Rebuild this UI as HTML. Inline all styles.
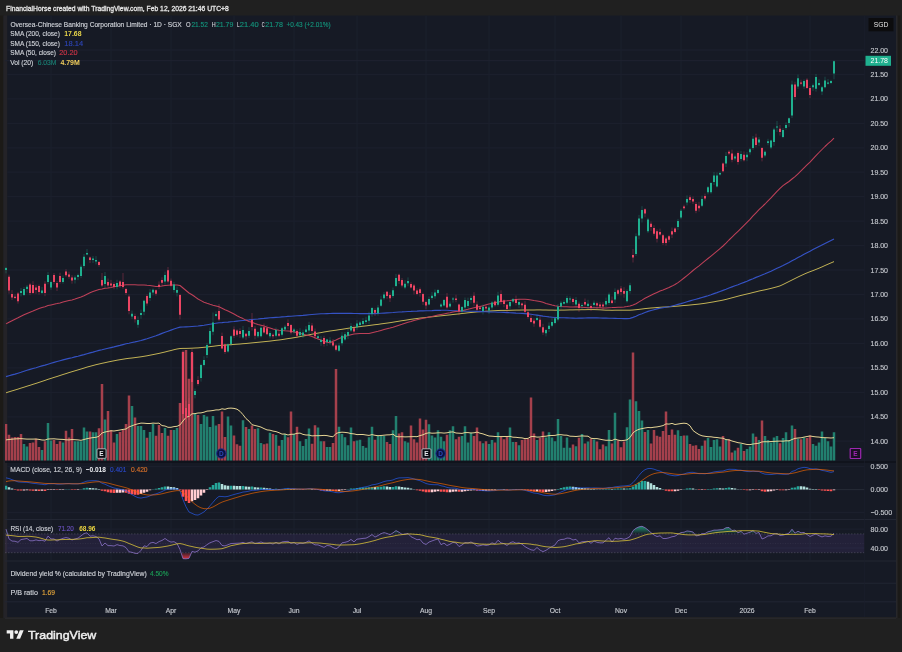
<!DOCTYPE html><html><head><meta charset="utf-8"><title>OCBC chart</title><style>html,body{margin:0;padding:0;background:#202020;}body{width:902px;height:652px;overflow:hidden;position:relative;font-family:'Liberation Sans', Arial, sans-serif;}svg{position:absolute;left:0;top:0;display:block}text{font-family:'Liberation Sans', Arial, sans-serif;}</style></head><body><svg width="902" height="652" viewBox="0 0 902 652"><rect x="0" y="15.5" width="3.4" height="602.5" fill="#1c1a17"/><rect x="3.4" y="15.5" width="4" height="602.5" fill="#242328"/><rect x="7.3" y="15.5" width="888.7" height="601.5" fill="#161a25"/><rect x="896.0" y="15.5" width="1.7" height="602.5" fill="#27272a"/><rect x="897.7" y="15.5" width="2.6" height="602.5" fill="#1b1a18"/><defs><clipPath id="cm"><rect x="5.0" y="15.5" width="859.5" height="445.5"/></clipPath><clipPath id="cmacd"><rect x="5.0" y="462.5" width="859.5" height="56"/></clipPath><clipPath id="crsi"><rect x="5.0" y="520.5" width="859.5" height="39.5"/></clipPath></defs><path d="M51.0 15.5V560.5 M111.0 15.5V560.5 M171.0 15.5V560.5 M234.0 15.5V560.5 M294.0 15.5V560.5 M357.0 15.5V560.5 M426.0 15.5V560.5 M489.0 15.5V560.5 M555.0 15.5V560.5 M621.0 15.5V560.5 M681.0 15.5V560.5 M747.0 15.5V560.5 M810.0 15.5V560.5 M7.3 50.0H864.5 M7.3 74.5H864.5 M7.3 98.9H864.5 M7.3 123.3H864.5 M7.3 147.8H864.5 M7.3 172.2H864.5 M7.3 196.7H864.5 M7.3 221.2H864.5 M7.3 245.6H864.5 M7.3 270.0H864.5 M7.3 294.5H864.5 M7.3 318.9H864.5 M7.3 343.4H864.5 M7.3 367.8H864.5 M7.3 392.3H864.5 M7.3 416.8H864.5 M7.3 441.2H864.5 M7.3 466.7H864.5 M7.3 489.6H864.5 M7.3 512.5H864.5 M7.3 529.2H864.5 M7.3 548.0H864.5" stroke="#1b1f2c" stroke-width="1.3" fill="none"/><g clip-path="url(#cm)"><path d="M22.75 443.9h2.5V460.6h-2.5zM25.75 446.5h2.5V460.6h-2.5zM40.75 450.0h2.5V460.6h-2.5zM46.75 423.0h2.5V460.6h-2.5zM49.75 440.6h2.5V460.6h-2.5zM61.75 442.6h2.5V460.6h-2.5zM73.75 441.3h2.5V460.6h-2.5zM76.75 441.3h2.5V460.6h-2.5zM79.75 441.3h2.5V460.6h-2.5zM82.75 427.6h2.5V460.6h-2.5zM85.75 431.5h2.5V460.6h-2.5zM91.75 432.2h2.5V460.6h-2.5zM94.75 432.2h2.5V460.6h-2.5zM103.75 419.5h2.5V460.6h-2.5zM115.75 434.0h2.5V460.6h-2.5zM130.75 406.0h2.5V460.6h-2.5zM136.75 426.0h2.5V460.6h-2.5zM139.75 426.0h2.5V460.6h-2.5zM142.75 430.0h2.5V460.6h-2.5zM148.75 432.0h2.5V460.6h-2.5zM151.75 424.0h2.5V460.6h-2.5zM163.75 428.0h2.5V460.6h-2.5zM172.75 430.0h2.5V460.6h-2.5zM175.75 428.0h2.5V460.6h-2.5zM193.75 413.7h2.5V460.6h-2.5zM199.75 424.0h2.5V460.6h-2.5zM202.75 415.0h2.5V460.6h-2.5zM205.75 416.6h2.5V460.6h-2.5zM208.75 427.0h2.5V460.6h-2.5zM211.75 416.0h2.5V460.6h-2.5zM214.75 425.4h2.5V460.6h-2.5zM226.75 416.6h2.5V460.6h-2.5zM229.75 425.4h2.5V460.6h-2.5zM241.75 420.3h2.5V460.6h-2.5zM247.75 429.0h2.5V460.6h-2.5zM256.75 428.3h2.5V460.6h-2.5zM259.75 443.0h2.5V460.6h-2.5zM268.75 432.7h2.5V460.6h-2.5zM274.75 434.9h2.5V460.6h-2.5zM280.75 440.0h2.5V460.6h-2.5zM283.75 434.0h2.5V460.6h-2.5zM292.75 434.0h2.5V460.6h-2.5zM298.75 441.3h2.5V460.6h-2.5zM301.75 446.0h2.5V460.6h-2.5zM304.75 439.0h2.5V460.6h-2.5zM307.75 428.4h2.5V460.6h-2.5zM316.75 427.6h2.5V460.6h-2.5zM319.75 441.3h2.5V460.6h-2.5zM325.75 447.0h2.5V460.6h-2.5zM328.75 447.0h2.5V460.6h-2.5zM337.75 426.8h2.5V460.6h-2.5zM340.75 434.0h2.5V460.6h-2.5zM343.75 437.3h2.5V460.6h-2.5zM346.75 445.3h2.5V460.6h-2.5zM349.75 427.6h2.5V460.6h-2.5zM355.75 440.5h2.5V460.6h-2.5zM358.75 439.7h2.5V460.6h-2.5zM361.75 446.0h2.5V460.6h-2.5zM364.75 447.8h2.5V460.6h-2.5zM367.75 437.3h2.5V460.6h-2.5zM370.75 426.8h2.5V460.6h-2.5zM376.75 435.7h2.5V460.6h-2.5zM379.75 436.0h2.5V460.6h-2.5zM382.75 436.0h2.5V460.6h-2.5zM391.75 430.2h2.5V460.6h-2.5zM394.75 415.9h2.5V460.6h-2.5zM403.75 441.3h2.5V460.6h-2.5zM406.75 442.6h2.5V460.6h-2.5zM427.75 424.3h2.5V460.6h-2.5zM430.75 435.4h2.5V460.6h-2.5zM433.75 437.4h2.5V460.6h-2.5zM436.75 430.2h2.5V460.6h-2.5zM439.75 436.7h2.5V460.6h-2.5zM442.75 441.3h2.5V460.6h-2.5zM448.75 430.2h2.5V460.6h-2.5zM451.75 426.3h2.5V460.6h-2.5zM460.75 436.0h2.5V460.6h-2.5zM463.75 426.3h2.5V460.6h-2.5zM466.75 442.6h2.5V460.6h-2.5zM469.75 432.8h2.5V460.6h-2.5zM481.75 443.2h2.5V460.6h-2.5zM487.75 443.9h2.5V460.6h-2.5zM490.75 440.0h2.5V460.6h-2.5zM496.75 432.2h2.5V460.6h-2.5zM508.75 427.6h2.5V460.6h-2.5zM511.75 442.0h2.5V460.6h-2.5zM517.75 445.2h2.5V460.6h-2.5zM535.75 440.0h2.5V460.6h-2.5zM544.75 437.4h2.5V460.6h-2.5zM547.75 432.2h2.5V460.6h-2.5zM550.75 437.4h2.5V460.6h-2.5zM553.75 441.3h2.5V460.6h-2.5zM556.75 419.0h2.5V460.6h-2.5zM559.75 436.0h2.5V460.6h-2.5zM562.75 447.8h2.5V460.6h-2.5zM565.75 437.4h2.5V460.6h-2.5zM568.75 447.8h2.5V460.6h-2.5zM574.75 446.3h2.5V460.6h-2.5zM580.75 433.9h2.5V460.6h-2.5zM586.75 441.5h2.5V460.6h-2.5zM592.75 439.6h2.5V460.6h-2.5zM604.75 446.3h2.5V460.6h-2.5zM607.75 430.0h2.5V460.6h-2.5zM613.75 412.8h2.5V460.6h-2.5zM625.75 427.2h2.5V460.6h-2.5zM628.75 399.4h2.5V460.6h-2.5zM634.75 401.3h2.5V460.6h-2.5zM637.75 411.0h2.5V460.6h-2.5zM640.75 420.5h2.5V460.6h-2.5zM646.75 430.0h2.5V460.6h-2.5zM676.75 430.2h2.5V460.6h-2.5zM679.75 436.0h2.5V460.6h-2.5zM685.75 435.4h2.5V460.6h-2.5zM700.75 445.8h2.5V460.6h-2.5zM706.75 438.0h2.5V460.6h-2.5zM709.75 447.0h2.5V460.6h-2.5zM712.75 440.0h2.5V460.6h-2.5zM715.75 439.3h2.5V460.6h-2.5zM718.75 446.5h2.5V460.6h-2.5zM724.75 439.3h2.5V460.6h-2.5zM733.75 450.4h2.5V460.6h-2.5zM739.75 443.9h2.5V460.6h-2.5zM745.75 449.1h2.5V460.6h-2.5zM748.75 446.5h2.5V460.6h-2.5zM751.75 433.5h2.5V460.6h-2.5zM757.75 440.0h2.5V460.6h-2.5zM763.75 436.0h2.5V460.6h-2.5zM766.75 440.0h2.5V460.6h-2.5zM769.75 442.6h2.5V460.6h-2.5zM772.75 437.4h2.5V460.6h-2.5zM775.75 436.0h2.5V460.6h-2.5zM781.75 438.0h2.5V460.6h-2.5zM784.75 432.2h2.5V460.6h-2.5zM787.75 440.0h2.5V460.6h-2.5zM790.75 425.6h2.5V460.6h-2.5zM796.75 438.7h2.5V460.6h-2.5zM802.75 437.4h2.5V460.6h-2.5zM811.75 443.9h2.5V460.6h-2.5zM814.75 445.8h2.5V460.6h-2.5zM817.75 442.6h2.5V460.6h-2.5zM820.75 431.5h2.5V460.6h-2.5zM823.75 438.0h2.5V460.6h-2.5zM826.75 441.3h2.5V460.6h-2.5zM829.75 446.5h2.5V460.6h-2.5zM832.75 432.2h2.5V460.6h-2.5z" fill="#22806f"/><path d="M4.75 424.0h2.5V460.6h-2.5zM7.75 434.8h2.5V460.6h-2.5zM10.75 437.4h2.5V460.6h-2.5zM13.75 437.0h2.5V460.6h-2.5zM16.75 437.0h2.5V460.6h-2.5zM19.75 434.0h2.5V460.6h-2.5zM28.75 443.0h2.5V460.6h-2.5zM31.75 442.6h2.5V460.6h-2.5zM34.75 438.7h2.5V460.6h-2.5zM37.75 447.0h2.5V460.6h-2.5zM43.75 441.3h2.5V460.6h-2.5zM52.75 440.0h2.5V460.6h-2.5zM55.75 443.9h2.5V460.6h-2.5zM58.75 441.3h2.5V460.6h-2.5zM64.75 430.8h2.5V460.6h-2.5zM67.75 437.4h2.5V460.6h-2.5zM70.75 428.9h2.5V460.6h-2.5zM88.75 431.5h2.5V460.6h-2.5zM97.75 428.2h2.5V460.6h-2.5zM100.75 384.0h2.5V460.6h-2.5zM106.75 411.0h2.5V460.6h-2.5zM109.75 430.0h2.5V460.6h-2.5zM112.75 442.5h2.5V460.6h-2.5zM118.75 432.0h2.5V460.6h-2.5zM121.75 430.0h2.5V460.6h-2.5zM124.75 424.0h2.5V460.6h-2.5zM127.75 395.6h2.5V460.6h-2.5zM133.75 417.6h2.5V460.6h-2.5zM145.75 437.7h2.5V460.6h-2.5zM154.75 435.8h2.5V460.6h-2.5zM157.75 425.0h2.5V460.6h-2.5zM160.75 433.0h2.5V460.6h-2.5zM166.75 435.8h2.5V460.6h-2.5zM169.75 430.0h2.5V460.6h-2.5zM178.75 403.0h2.5V460.6h-2.5zM181.75 351.7h2.5V460.6h-2.5zM184.75 350.0h2.5V460.6h-2.5zM187.75 378.7h2.5V460.6h-2.5zM190.75 353.0h2.5V460.6h-2.5zM196.75 415.0h2.5V460.6h-2.5zM217.75 424.0h2.5V460.6h-2.5zM220.75 411.5h2.5V460.6h-2.5zM223.75 437.0h2.5V460.6h-2.5zM232.75 435.6h2.5V460.6h-2.5zM235.75 444.3h2.5V460.6h-2.5zM238.75 445.8h2.5V460.6h-2.5zM244.75 427.0h2.5V460.6h-2.5zM250.75 425.4h2.5V460.6h-2.5zM253.75 429.0h2.5V460.6h-2.5zM262.75 444.3h2.5V460.6h-2.5zM265.75 443.6h2.5V460.6h-2.5zM271.75 434.0h2.5V460.6h-2.5zM277.75 445.8h2.5V460.6h-2.5zM286.75 437.3h2.5V460.6h-2.5zM289.75 411.5h2.5V460.6h-2.5zM295.75 426.8h2.5V460.6h-2.5zM310.75 443.7h2.5V460.6h-2.5zM313.75 425.2h2.5V460.6h-2.5zM322.75 441.3h2.5V460.6h-2.5zM331.75 443.0h2.5V460.6h-2.5zM334.75 368.9h2.5V460.6h-2.5zM352.75 441.3h2.5V460.6h-2.5zM373.75 439.7h2.5V460.6h-2.5zM385.75 442.0h2.5V460.6h-2.5zM388.75 443.9h2.5V460.6h-2.5zM397.75 433.5h2.5V460.6h-2.5zM400.75 432.2h2.5V460.6h-2.5zM409.75 425.6h2.5V460.6h-2.5zM412.75 439.3h2.5V460.6h-2.5zM415.75 442.6h2.5V460.6h-2.5zM418.75 418.5h2.5V460.6h-2.5zM421.75 429.5h2.5V460.6h-2.5zM424.75 419.8h2.5V460.6h-2.5zM445.75 434.8h2.5V460.6h-2.5zM454.75 439.3h2.5V460.6h-2.5zM457.75 436.7h2.5V460.6h-2.5zM472.75 436.0h2.5V460.6h-2.5zM475.75 427.6h2.5V460.6h-2.5zM478.75 441.3h2.5V460.6h-2.5zM484.75 441.3h2.5V460.6h-2.5zM493.75 442.6h2.5V460.6h-2.5zM499.75 436.7h2.5V460.6h-2.5zM502.75 439.3h2.5V460.6h-2.5zM505.75 436.0h2.5V460.6h-2.5zM514.75 442.0h2.5V460.6h-2.5zM520.75 440.0h2.5V460.6h-2.5zM523.75 439.3h2.5V460.6h-2.5zM526.75 438.7h2.5V460.6h-2.5zM529.75 397.6h2.5V460.6h-2.5zM532.75 433.5h2.5V460.6h-2.5zM538.75 438.0h2.5V460.6h-2.5zM541.75 431.5h2.5V460.6h-2.5zM571.75 444.4h2.5V460.6h-2.5zM577.75 437.7h2.5V460.6h-2.5zM583.75 443.4h2.5V460.6h-2.5zM589.75 438.7h2.5V460.6h-2.5zM595.75 441.5h2.5V460.6h-2.5zM598.75 449.2h2.5V460.6h-2.5zM601.75 444.4h2.5V460.6h-2.5zM610.75 443.4h2.5V460.6h-2.5zM616.75 440.6h2.5V460.6h-2.5zM619.75 447.3h2.5V460.6h-2.5zM622.75 441.5h2.5V460.6h-2.5zM631.75 352.5h2.5V460.6h-2.5zM643.75 432.0h2.5V460.6h-2.5zM649.75 443.4h2.5V460.6h-2.5zM652.75 430.0h2.5V460.6h-2.5zM655.75 435.8h2.5V460.6h-2.5zM658.75 436.7h2.5V460.6h-2.5zM661.75 431.0h2.5V460.6h-2.5zM664.75 411.5h2.5V460.6h-2.5zM667.75 435.0h2.5V460.6h-2.5zM670.75 429.5h2.5V460.6h-2.5zM673.75 434.8h2.5V460.6h-2.5zM682.75 435.4h2.5V460.6h-2.5zM688.75 443.9h2.5V460.6h-2.5zM691.75 445.8h2.5V460.6h-2.5zM694.75 445.2h2.5V460.6h-2.5zM697.75 449.1h2.5V460.6h-2.5zM703.75 440.6h2.5V460.6h-2.5zM721.75 436.0h2.5V460.6h-2.5zM727.75 439.3h2.5V460.6h-2.5zM730.75 452.4h2.5V460.6h-2.5zM736.75 447.8h2.5V460.6h-2.5zM742.75 451.0h2.5V460.6h-2.5zM754.75 436.7h2.5V460.6h-2.5zM760.75 420.4h2.5V460.6h-2.5zM778.75 443.2h2.5V460.6h-2.5zM793.75 428.9h2.5V460.6h-2.5zM799.75 439.3h2.5V460.6h-2.5zM805.75 438.0h2.5V460.6h-2.5zM808.75 435.4h2.5V460.6h-2.5z" fill="#a5404c"/><polyline points="6.0,439.9 9.0,439.5 12.0,439.2 15.0,438.9 18.0,438.8 21.0,438.6 24.0,438.9 27.0,439.1 30.0,439.1 33.0,439.1 36.0,439.0 39.0,439.4 42.0,440.0 45.0,440.1 48.0,439.0 51.0,438.9 54.0,438.8 57.0,439.1 60.0,439.3 63.0,439.4 66.0,439.8 69.0,439.9 72.0,439.5 75.0,439.7 78.0,439.9 81.0,440.3 84.0,439.5 87.0,438.7 90.0,438.1 93.0,437.6 96.0,437.3 99.0,436.3 102.0,433.0 105.0,432.0 108.0,431.4 111.0,430.8 114.0,431.0 117.0,430.5 120.0,430.0 123.0,429.4 126.0,429.0 129.0,426.9 132.0,425.8 135.0,424.6 138.0,423.8 141.0,423.1 144.0,423.2 147.0,423.5 150.0,423.5 153.0,423.1 156.0,423.3 159.0,423.1 162.0,425.6 165.0,426.0 168.0,427.3 171.0,427.3 174.0,426.6 177.0,426.3 180.0,424.9 183.0,421.0 186.0,417.3 189.0,416.4 192.0,413.8 195.0,413.6 198.0,413.0 201.0,412.9 204.0,412.2 207.0,411.1 210.0,410.9 213.0,410.5 216.0,409.9 219.0,409.9 222.0,408.8 225.0,409.3 228.0,408.3 231.0,408.1 234.0,408.4 237.0,409.2 240.0,411.3 243.0,414.7 246.0,418.6 249.0,421.1 252.0,424.7 255.0,425.5 258.0,426.2 261.0,427.1 264.0,428.6 267.0,429.9 270.0,430.2 273.0,431.1 276.0,431.6 279.0,432.7 282.0,434.1 285.0,434.0 288.0,435.0 291.0,434.3 294.0,434.2 297.0,433.3 300.0,433.1 303.0,434.4 306.0,435.0 309.0,435.0 312.0,435.9 315.0,435.7 318.0,435.7 321.0,435.6 324.0,435.4 327.0,435.6 330.0,436.3 333.0,436.8 336.0,433.5 339.0,432.5 342.0,432.2 345.0,432.4 348.0,432.8 351.0,433.6 354.0,433.9 357.0,434.6 360.0,434.5 363.0,434.5 366.0,435.0 369.0,435.4 372.0,434.6 375.0,435.3 378.0,435.7 381.0,435.5 384.0,435.2 387.0,434.9 390.0,434.8 393.0,434.1 396.0,436.5 399.0,436.8 402.0,436.7 405.0,436.9 408.0,436.8 411.0,436.7 414.0,436.6 417.0,436.7 420.0,435.6 423.0,434.8 426.0,433.4 429.0,432.8 432.0,433.2 435.0,433.1 438.0,432.8 441.0,432.8 444.0,433.1 447.0,432.8 450.0,432.1 453.0,431.9 456.0,433.0 459.0,433.2 462.0,433.4 465.0,432.6 468.0,432.6 471.0,433.0 474.0,432.8 477.0,432.1 480.0,433.2 483.0,433.9 486.0,435.0 489.0,436.0 492.0,436.2 495.0,436.5 498.0,436.6 501.0,436.6 504.0,436.5 507.0,436.5 510.0,436.4 513.0,437.2 516.0,437.3 519.0,437.7 522.0,437.9 525.0,438.6 528.0,438.4 531.0,436.6 534.0,436.5 537.0,437.1 540.0,437.0 543.0,436.4 546.0,436.2 549.0,435.6 552.0,435.5 555.0,435.4 558.0,434.7 561.0,434.7 564.0,435.1 567.0,435.2 570.0,436.2 573.0,436.3 576.0,436.5 579.0,436.2 582.0,435.9 585.0,436.1 588.0,436.2 591.0,438.3 594.0,438.6 597.0,438.6 600.0,439.2 603.0,439.8 606.0,440.3 609.0,440.2 612.0,440.5 615.0,439.1 618.0,440.1 621.0,440.7 624.0,440.4 627.0,439.9 630.0,437.5 633.0,432.9 636.0,430.6 639.0,429.3 642.0,428.6 645.0,428.0 648.0,427.5 651.0,427.7 654.0,427.2 657.0,426.9 660.0,426.3 663.0,425.6 666.0,423.9 669.0,424.1 672.0,423.4 675.0,424.5 678.0,424.0 681.0,423.5 684.0,423.2 687.0,423.6 690.0,425.8 693.0,430.5 696.0,432.7 699.0,434.6 702.0,435.8 705.0,436.3 708.0,436.7 711.0,436.8 714.0,437.3 717.0,437.5 720.0,438.0 723.0,438.2 726.0,439.6 729.0,439.9 732.0,441.0 735.0,441.8 738.0,442.7 741.0,443.1 744.0,443.8 747.0,444.5 750.0,444.6 753.0,444.0 756.0,443.6 759.0,443.2 762.0,441.9 765.0,441.7 768.0,441.8 771.0,441.5 774.0,441.4 777.0,441.2 780.0,441.1 783.0,441.2 786.0,440.8 789.0,440.9 792.0,439.5 795.0,438.4 798.0,438.0 801.0,437.8 804.0,437.1 807.0,436.5 810.0,436.0 813.0,436.5 816.0,436.9 819.0,437.1 822.0,437.6 825.0,437.7 828.0,437.8 831.0,438.0 834.0,437.7" fill="none" stroke="#e6d595" stroke-width="1.0"/><polyline points="6.0,392.8 9.0,391.8 12.0,390.9 15.0,390.0 18.0,389.1 21.0,388.1 24.0,387.2 27.0,386.2 30.0,385.3 33.0,384.3 36.0,383.4 39.0,382.4 42.0,381.4 45.0,380.4 48.0,379.3 51.0,378.4 54.0,377.4 57.0,376.5 60.0,375.5 63.0,374.5 66.0,373.6 69.0,372.6 72.0,371.7 75.0,370.8 78.0,369.9 81.0,369.0 84.0,368.1 87.0,367.1 90.0,366.3 93.0,365.5 96.0,364.7 99.0,364.0 102.0,363.3 105.0,362.7 108.0,362.0 111.0,361.4 114.0,360.8 117.0,360.2 120.0,359.7 123.0,359.2 126.0,358.7 129.0,358.3 132.0,358.0 135.0,357.6 138.0,357.2 141.0,356.8 144.0,356.3 147.0,355.8 150.0,355.2 153.0,354.6 156.0,354.0 159.0,353.4 162.0,352.7 165.0,352.0 168.0,351.2 171.0,350.5 174.0,349.7 177.0,349.0 180.0,348.5 183.0,348.4 186.0,348.4 189.0,348.3 192.0,348.2 195.0,348.0 198.0,347.9 201.0,347.6 204.0,347.3 207.0,347.0 210.0,346.6 213.0,346.3 216.0,345.9 219.0,345.5 222.0,345.3 225.0,345.1 228.0,344.9 231.0,344.7 234.0,344.4 237.0,344.2 240.0,344.0 243.0,343.7 246.0,343.5 249.0,343.2 252.0,342.9 255.0,342.6 258.0,342.3 261.0,342.0 264.0,341.7 267.0,341.4 270.0,341.1 273.0,340.7 276.0,340.3 279.0,340.0 282.0,339.6 285.0,339.1 288.0,338.6 291.0,338.2 294.0,337.7 297.0,337.2 300.0,336.6 303.0,336.0 306.0,335.5 309.0,334.8 312.0,334.2 315.0,333.7 318.0,333.1 321.0,332.6 324.0,332.0 327.0,331.5 330.0,331.0 333.0,330.6 336.0,330.2 339.0,329.7 342.0,329.3 345.0,328.8 348.0,328.3 351.0,327.9 354.0,327.5 357.0,327.0 360.0,326.6 363.0,326.2 366.0,325.9 369.0,325.5 372.0,325.1 375.0,324.7 378.0,324.4 381.0,323.9 384.0,323.5 387.0,323.1 390.0,322.7 393.0,322.2 396.0,321.7 399.0,321.2 402.0,320.7 405.0,320.3 408.0,319.8 411.0,319.3 414.0,318.9 417.0,318.5 420.0,318.1 423.0,317.8 426.0,317.5 429.0,317.1 432.0,316.8 435.0,316.5 438.0,316.1 441.0,315.8 444.0,315.5 447.0,315.2 450.0,314.9 453.0,314.5 456.0,314.2 459.0,313.9 462.0,313.5 465.0,313.2 468.0,312.8 471.0,312.5 474.0,312.2 477.0,311.9 480.0,311.7 483.0,311.5 486.0,311.3 489.0,311.1 492.0,310.9 495.0,310.7 498.0,310.5 501.0,310.4 504.0,310.4 507.0,310.4 510.0,310.3 513.0,310.2 516.0,310.1 519.0,310.1 522.0,310.0 525.0,310.0 528.0,310.0 531.0,310.0 534.0,310.0 537.0,309.9 540.0,309.9 543.0,310.0 546.0,310.0 549.0,310.1 552.0,310.1 555.0,310.2 558.0,310.2 561.0,310.1 564.0,310.1 567.0,310.0 570.0,309.9 573.0,309.9 576.0,309.8 579.0,309.8 582.0,309.7 585.0,309.7 588.0,309.6 591.0,309.6 594.0,309.6 597.0,309.7 600.0,309.8 603.0,310.0 606.0,310.2 609.0,310.2 612.0,310.3 615.0,310.2 618.0,310.2 621.0,310.2 624.0,310.2 627.0,310.2 630.0,310.2 633.0,310.0 636.0,309.7 639.0,309.4 642.0,309.0 645.0,308.6 648.0,308.3 651.0,308.0 654.0,307.8 657.0,307.5 660.0,307.3 663.0,307.1 666.0,307.0 669.0,306.8 672.0,306.6 675.0,306.3 678.0,306.1 681.0,305.8 684.0,305.5 687.0,305.3 690.0,305.0 693.0,304.7 696.0,304.4 699.0,304.1 702.0,303.7 705.0,303.3 708.0,302.8 711.0,302.3 714.0,301.8 717.0,301.2 720.0,300.7 723.0,300.1 726.0,299.4 729.0,298.6 732.0,297.8 735.0,297.0 738.0,296.2 741.0,295.4 744.0,294.7 747.0,294.0 750.0,293.3 753.0,292.5 756.0,291.8 759.0,291.0 762.0,290.4 765.0,289.8 768.0,289.1 771.0,288.4 774.0,287.6 777.0,286.8 780.0,285.9 783.0,284.5 786.0,283.0 789.0,281.5 792.0,280.0 795.0,278.5 798.0,277.0 801.0,275.6 804.0,274.2 807.0,272.9 810.0,271.7 813.0,270.6 816.0,269.4 819.0,268.2 822.0,266.9 825.0,265.5 828.0,264.2 831.0,262.9 834.0,261.6" fill="none" stroke="#c2b255" stroke-width="1.0" stroke-linejoin="round"/><polyline points="6.0,376.6 9.0,375.7 12.0,374.9 15.0,374.1 18.0,373.2 21.0,372.3 24.0,371.3 27.0,370.3 30.0,369.4 33.0,368.5 36.0,367.7 39.0,366.8 42.0,365.9 45.0,365.1 48.0,364.2 51.0,363.3 54.0,362.4 57.0,361.5 60.0,360.7 63.0,359.9 66.0,359.1 69.0,358.4 72.0,357.7 75.0,356.9 78.0,356.2 81.0,355.4 84.0,354.6 87.0,353.7 90.0,352.9 93.0,352.1 96.0,351.2 99.0,350.4 102.0,349.8 105.0,349.0 108.0,348.3 111.0,347.6 114.0,346.9 117.0,346.1 120.0,345.4 123.0,344.6 126.0,343.8 129.0,343.2 132.0,342.5 135.0,341.9 138.0,341.2 141.0,340.5 144.0,339.6 147.0,338.7 150.0,337.7 153.0,336.7 156.0,335.7 159.0,334.6 162.0,333.4 165.0,332.3 168.0,331.2 171.0,330.1 174.0,329.0 177.0,328.0 180.0,327.1 183.0,327.0 186.0,326.9 189.0,326.8 192.0,326.5 195.0,326.2 198.0,326.0 201.0,325.6 204.0,325.3 207.0,324.8 210.0,324.3 213.0,323.8 216.0,323.3 219.0,322.8 222.0,322.6 225.0,322.3 228.0,322.1 231.0,321.8 234.0,321.5 237.0,321.1 240.0,320.8 243.0,320.5 246.0,320.2 249.0,319.9 252.0,319.5 255.0,319.2 258.0,319.0 261.0,318.6 264.0,318.4 267.0,318.1 270.0,317.8 273.0,317.6 276.0,317.4 279.0,317.2 282.0,316.9 285.0,316.7 288.0,316.4 291.0,316.2 294.0,316.0 297.0,315.8 300.0,315.6 303.0,315.4 306.0,315.1 309.0,314.8 312.0,314.5 315.0,314.2 318.0,314.0 321.0,313.8 324.0,313.7 327.0,313.6 330.0,313.5 333.0,313.4 336.0,313.4 339.0,313.4 342.0,313.3 345.0,313.3 348.0,313.4 351.0,313.4 354.0,313.5 357.0,313.5 360.0,313.6 363.0,313.6 366.0,313.6 369.0,313.6 372.0,313.6 375.0,313.6 378.0,313.5 381.0,313.3 384.0,313.1 387.0,312.9 390.0,312.7 393.0,312.5 396.0,312.2 399.0,312.0 402.0,311.9 405.0,311.7 408.0,311.5 411.0,311.4 414.0,311.2 417.0,311.1 420.0,310.9 423.0,310.9 426.0,310.8 429.0,310.7 432.0,310.6 435.0,310.4 438.0,310.3 441.0,310.3 444.0,310.2 447.0,310.3 450.0,310.5 453.0,310.7 456.0,310.9 459.0,311.1 462.0,311.1 465.0,311.2 468.0,311.2 471.0,311.2 474.0,311.3 477.0,311.4 480.0,311.6 483.0,311.6 486.0,311.8 489.0,311.9 492.0,312.0 495.0,312.0 498.0,312.2 501.0,312.3 504.0,312.4 507.0,312.6 510.0,312.7 513.0,312.9 516.0,313.1 519.0,313.2 522.0,313.4 525.0,313.6 528.0,313.9 531.0,314.3 534.0,314.7 537.0,315.1 540.0,315.6 543.0,316.1 546.0,316.5 549.0,316.9 552.0,317.2 555.0,317.5 558.0,317.6 561.0,317.7 564.0,317.8 567.0,317.9 570.0,318.0 573.0,318.1 576.0,318.2 579.0,318.1 582.0,318.1 585.0,318.0 588.0,317.9 591.0,317.8 594.0,317.9 597.0,317.9 600.0,318.0 603.0,318.1 606.0,318.1 609.0,318.2 612.0,318.3 615.0,318.4 618.0,318.5 621.0,318.5 624.0,318.6 627.0,318.6 630.0,318.4 633.0,317.4 636.0,316.2 639.0,314.8 642.0,313.7 645.0,312.5 648.0,311.4 651.0,310.5 654.0,309.7 657.0,308.9 660.0,308.3 663.0,307.8 666.0,307.3 669.0,306.8 672.0,306.0 675.0,305.2 678.0,304.4 681.0,303.6 684.0,302.7 687.0,301.8 690.0,300.9 693.0,300.0 696.0,299.2 699.0,298.4 702.0,297.5 705.0,296.6 708.0,295.7 711.0,294.7 714.0,293.6 717.0,292.6 720.0,291.5 723.0,290.4 726.0,289.3 729.0,288.0 732.0,286.9 735.0,285.8 738.0,284.7 741.0,283.5 744.0,282.4 747.0,281.2 750.0,279.9 753.0,278.7 756.0,277.4 759.0,276.2 762.0,275.0 765.0,273.8 768.0,272.5 771.0,271.2 774.0,269.7 777.0,268.3 780.0,266.9 783.0,265.5 786.0,264.0 789.0,262.5 792.0,260.8 795.0,259.2 798.0,257.5 801.0,255.9 804.0,254.2 807.0,252.7 810.0,251.2 813.0,249.6 816.0,248.0 819.0,246.4 822.0,244.9 825.0,243.4 828.0,241.9 831.0,240.4 834.0,238.9" fill="none" stroke="#3552c4" stroke-width="1.15" stroke-linejoin="round"/><polyline points="6.0,323.9 9.0,322.2 12.0,320.7 15.0,319.2 18.0,317.8 21.0,316.3 24.0,314.8 27.0,313.4 30.0,312.2 33.0,311.0 36.0,309.7 39.0,308.6 42.0,307.6 45.0,306.7 48.0,305.6 51.0,304.9 54.0,304.2 57.0,303.6 60.0,302.9 63.0,302.1 66.0,301.3 69.0,300.6 72.0,299.9 75.0,299.1 78.0,298.1 81.0,297.1 84.0,295.7 87.0,294.2 90.0,292.8 93.0,291.6 96.0,290.4 99.0,289.5 102.0,289.0 105.0,288.3 108.0,287.9 111.0,287.4 114.0,286.8 117.0,286.2 120.0,285.7 123.0,285.2 126.0,284.8 129.0,284.7 132.0,284.7 135.0,284.7 138.0,284.9 141.0,285.0 144.0,284.9 147.0,285.2 150.0,285.4 153.0,285.9 156.0,286.5 159.0,286.4 162.0,286.1 165.0,285.6 168.0,285.2 171.0,285.1 174.0,285.0 177.0,285.1 180.0,285.5 183.0,288.0 186.0,290.5 189.0,293.0 192.0,294.8 195.0,296.8 198.0,299.0 201.0,300.6 204.0,302.2 207.0,303.3 210.0,304.3 213.0,305.2 216.0,306.0 219.0,306.8 222.0,308.2 225.0,309.7 228.0,311.1 231.0,312.5 234.0,314.0 237.0,315.7 240.0,317.2 243.0,318.6 246.0,320.1 249.0,321.4 252.0,322.3 255.0,323.5 258.0,324.4 261.0,325.2 264.0,326.1 267.0,327.2 270.0,328.1 273.0,329.1 276.0,329.8 279.0,330.3 282.0,330.6 285.0,330.8 288.0,330.9 291.0,331.3 294.0,331.9 297.0,332.5 300.0,333.3 303.0,334.2 306.0,334.9 309.0,335.6 312.0,336.6 315.0,337.8 318.0,338.9 321.0,340.0 324.0,341.2 327.0,342.2 330.0,342.7 333.0,341.3 336.0,340.0 339.0,338.6 342.0,337.6 345.0,336.5 348.0,335.5 351.0,334.7 354.0,334.1 357.0,333.7 360.0,333.5 363.0,333.5 366.0,333.6 369.0,333.5 372.0,332.7 375.0,331.9 378.0,331.2 381.0,330.4 384.0,329.6 387.0,328.8 390.0,328.1 393.0,327.3 396.0,326.2 399.0,325.2 402.0,324.3 405.0,323.3 408.0,322.3 411.0,321.5 414.0,320.6 417.0,319.8 420.0,319.0 423.0,318.3 426.0,317.8 429.0,317.1 432.0,316.5 435.0,315.8 438.0,315.1 441.0,314.5 444.0,313.9 447.0,313.3 450.0,312.8 453.0,312.1 456.0,311.5 459.0,311.2 462.0,310.8 465.0,310.0 468.0,309.3 471.0,308.5 474.0,307.7 477.0,307.1 480.0,306.4 483.0,305.7 486.0,304.8 489.0,304.1 492.0,303.4 495.0,302.8 498.0,302.1 501.0,301.6 504.0,301.1 507.0,300.8 510.0,300.4 513.0,299.9 516.0,299.6 519.0,299.3 522.0,299.3 525.0,299.2 528.0,299.4 531.0,299.9 534.0,300.5 537.0,300.9 540.0,301.5 543.0,302.3 546.0,303.4 549.0,304.2 552.0,305.0 555.0,305.7 558.0,306.2 561.0,306.5 564.0,306.7 567.0,306.8 570.0,306.9 573.0,306.9 576.0,306.8 579.0,307.0 582.0,307.2 585.0,307.4 588.0,307.7 591.0,307.8 594.0,307.8 597.0,307.8 600.0,307.8 603.0,308.0 606.0,308.0 609.0,307.7 612.0,307.6 615.0,307.4 618.0,307.3 621.0,307.2 624.0,307.0 627.0,306.6 630.0,306.1 633.0,305.1 636.0,303.7 639.0,301.9 642.0,300.1 645.0,298.2 648.0,296.7 651.0,295.2 654.0,293.8 657.0,292.4 660.0,291.0 663.0,289.9 666.0,288.7 669.0,287.5 672.0,286.1 675.0,284.5 678.0,282.6 681.0,280.3 684.0,278.0 687.0,275.6 690.0,273.1 693.0,270.5 696.0,268.1 699.0,265.8 702.0,263.3 705.0,260.9 708.0,258.5 711.0,256.1 714.0,253.6 717.0,251.1 720.0,248.6 723.0,246.0 726.0,243.1 729.0,240.0 732.0,237.1 735.0,234.2 738.0,231.3 741.0,228.3 744.0,225.4 747.0,222.4 750.0,219.3 753.0,215.9 756.0,212.8 759.0,209.7 762.0,206.8 765.0,204.0 768.0,200.9 771.0,197.9 774.0,194.6 777.0,191.3 780.0,188.3 783.0,185.7 786.0,183.5 789.0,181.5 792.0,179.0 795.0,176.6 798.0,173.8 801.0,170.9 804.0,167.9 807.0,164.9 810.0,162.1 813.0,158.9 816.0,155.6 819.0,152.5 822.0,149.5 825.0,146.5 828.0,143.7 831.0,141.1 834.0,138.2" fill="none" stroke="#bd4058" stroke-width="1.05" stroke-linejoin="round"/><path d="M6.0 267.0V273.3M21.0 288.0V296.4M24.0 287.0V296.0M27.0 285.0V292.7M42.0 286.9V294.2M48.0 272.1V284.3M51.0 280.5V289.9M63.0 275.4V283.7M75.0 275.4V283.5M78.0 273.6V280.2M81.0 264.6V278.2M84.0 254.0V268.5M87.0 249.0V255.3M93.0 256.1V263.0M96.0 256.1V264.4M105.0 272.0V287.8M117.0 279.8V289.4M132.0 310.5V319.0M138.0 316.4V327.8M141.0 309.6V318.8M144.0 299.8V315.3M150.0 289.1V301.1M153.0 288.4V295.3M165.0 271.6V284.6M174.0 281.9V292.7M177.0 286.5V296.5M195.0 388.5V398.4M201.0 363.7V381.6M204.0 356.3V366.4M207.0 342.8V358.1M210.0 327.5V345.1M213.0 312.5V335.2M216.0 311.3V317.3M228.0 343.4V352.7M231.0 335.4V346.4M243.0 326.0V339.0M249.0 327.2V338.1M258.0 331.1V338.0M261.0 326.0V337.5M270.0 331.0V338.4M276.0 327.5V337.6M282.0 326.9V336.6M285.0 324.7V330.9M294.0 327.9V333.7M300.0 328.2V337.3M303.0 329.7V338.0M306.0 326.2V333.0M309.0 321.8V334.2M318.0 333.4V339.3M321.0 336.1V345.9M327.0 338.7V346.0M330.0 337.2V344.8M339.0 342.8V351.9M342.0 332.1V345.6M345.0 332.0V340.7M348.0 329.0V339.2M351.0 323.2V332.1M357.0 320.1V330.0M360.0 320.7V327.4M363.0 318.2V325.6M366.0 316.8V324.1M369.0 311.8V324.3M372.0 306.9V316.8M378.0 304.9V315.6M381.0 295.7V306.8M384.0 291.9V300.1M393.0 287.5V297.9M396.0 273.9V287.2M405.0 280.2V289.3M408.0 277.4V286.2M429.0 296.5V305.3M432.0 292.0V299.9M435.0 289.4V298.8M438.0 288.9V294.1M441.0 303.1V307.8M444.0 299.0V306.4M450.0 301.4V307.7M453.0 297.0V302.7M462.0 306.0V313.3M465.0 297.5V311.3M468.0 297.6V308.8M471.0 295.9V303.5M483.0 304.4V314.5M489.0 305.4V313.9M492.0 301.1V309.7M498.0 291.8V306.5M510.0 301.2V309.3M513.0 298.0V303.4M519.0 299.1V307.9M537.0 314.8V321.1M546.0 328.7V336.4M549.0 322.4V332.0M552.0 318.1V327.4M555.0 316.7V324.3M558.0 304.0V321.5M561.0 300.8V308.8M564.0 300.3V304.6M567.0 295.7V304.4M570.0 296.3V303.3M576.0 297.1V306.1M582.0 303.1V309.1M588.0 299.8V308.8M594.0 300.5V308.1M606.0 297.6V307.0M609.0 292.6V305.0M615.0 288.4V303.1M627.0 289.3V302.6M630.0 282.8V293.6M636.0 233.4V256.0M639.0 214.9V239.3M642.0 206.2V222.5M648.0 217.8V233.1M678.0 218.9V229.9M681.0 208.8V219.2M687.0 195.4V205.4M702.0 195.6V207.0M708.0 186.1V194.4M711.0 182.0V193.8M714.0 172.0V185.0M717.0 172.4V187.5M720.0 171.6V175.5M726.0 152.1V167.1M735.0 154.6V160.7M741.0 150.9V161.4M747.0 152.1V161.2M750.0 147.9V154.7M753.0 136.0V149.9M759.0 137.1V146.2M765.0 150.5V157.4M768.0 138.8V145.3M771.0 139.7V149.2M774.0 127.7V145.8M777.0 121.0V132.0M783.0 128.0V138.2M786.0 122.3V129.8M789.0 117.5V126.9M792.0 80.6V118.1M798.0 74.5V88.9M804.0 79.4V89.1M813.0 83.5V90.9M816.0 74.0V91.6M819.0 79.3V86.0M822.0 85.9V95.1M825.0 76.7V88.4M828.0 79.1V84.6M831.0 79.8V84.2M834.0 60.3V79.3" stroke="#1fb08f" stroke-width="0.6" stroke-opacity="0.55" fill="none"/><path d="M9.0 274.6V293.7M12.0 290.1V300.0M15.0 294.3V299.0M18.0 291.9V303.7M30.0 282.9V295.2M33.0 281.2V293.9M36.0 284.8V293.8M39.0 284.5V294.6M45.0 281.2V296.2M54.0 273.0V284.3M57.0 281.0V291.0M60.0 272.7V283.8M66.0 269.2V277.1M69.0 271.6V278.8M72.0 275.2V283.7M90.0 256.5V263.1M99.0 261.0V266.8M102.0 273.0V287.1M108.0 278.5V287.8M111.0 279.9V286.7M114.0 282.2V289.3M120.0 280.2V287.9M123.0 273.0V288.8M126.0 287.7V295.1M129.0 294.3V314.3M135.0 313.7V322.6M147.0 294.3V305.7M156.0 289.3V295.7M159.0 281.4V289.2M162.0 277.3V285.9M168.0 267.0V283.5M171.0 278.5V286.8M180.0 293.8V319.4M183.0 350.0V418.0M186.0 401.0V422.0M189.0 398.0V420.0M192.0 349.0V391.0M198.0 376.1V385.7M219.0 304.0V321.1M222.0 332.6V349.3M225.0 343.6V354.0M234.0 326.4V338.0M237.0 329.2V336.6M240.0 328.3V337.8M246.0 332.9V339.8M252.0 313.0V330.6M255.0 326.0V339.4M264.0 323.5V333.5M267.0 325.3V335.2M273.0 333.3V338.8M279.0 330.5V337.1M288.0 319.3V329.4M291.0 323.9V334.6M297.0 329.3V338.2M312.0 322.9V332.7M315.0 328.5V339.4M324.0 335.8V346.6M333.0 339.0V346.9M336.0 343.7V351.4M354.0 325.0V332.9M375.0 308.2V316.0M387.0 290.9V299.2M390.0 292.4V302.0M399.0 273.7V284.1M402.0 278.0V287.4M411.0 282.1V288.5M414.0 283.9V294.5M417.0 288.3V295.3M420.0 287.5V296.7M423.0 292.7V305.0M426.0 300.8V309.3M447.0 293.0V308.7M456.0 294.7V302.3M459.0 303.6V315.3M474.0 292.2V306.3M477.0 301.3V310.8M480.0 305.6V311.4M486.0 305.2V311.4M495.0 300.4V306.7M501.0 290.3V304.5M504.0 299.5V307.3M507.0 303.7V312.4M516.0 295.5V305.4M522.0 302.4V308.7M525.0 301.0V313.0M528.0 309.7V318.7M531.0 314.8V322.8M534.0 318.4V326.8M540.0 316.2V328.3M543.0 323.8V335.0M573.0 297.6V304.8M579.0 301.5V311.9M585.0 298.5V306.4M591.0 303.6V311.1M597.0 301.6V309.2M600.0 301.9V308.1M603.0 302.2V310.2M612.0 296.5V304.2M618.0 288.8V295.6M621.0 286.0V295.4M624.0 287.2V297.7M633.0 249.0V262.5M645.0 208.3V217.2M651.0 221.4V230.9M654.0 225.3V235.7M657.0 229.3V242.5M660.0 228.6V235.6M663.0 233.7V245.0M666.0 237.1V245.6M669.0 234.8V242.3M672.0 227.5V238.1M675.0 227.4V233.5M684.0 204.7V209.8M690.0 195.2V202.9M693.0 196.5V204.0M696.0 202.0V213.2M699.0 201.8V211.6M705.0 193.6V200.5M723.0 162.5V172.4M729.0 150.2V155.1M732.0 149.6V162.3M738.0 151.3V164.7M744.0 151.4V161.5M756.0 133.7V147.4M762.0 147.1V161.4M780.0 124.9V135.6M795.0 81.7V99.9M801.0 79.7V85.3M807.0 78.2V88.9M810.0 86.0V98.2" stroke="#ec4563" stroke-width="0.6" stroke-opacity="0.55" fill="none"/><path d="M5.0 268.0h2V270.0h-2zM20.0 291.0h2V293.0h-2zM23.0 289.0h2V295.0h-2zM26.0 286.7h2V289.0h-2zM41.0 290.6h2V293.0h-2zM47.0 275.0h2V282.0h-2zM50.0 282.0h2V287.5h-2zM62.0 278.0h2V282.0h-2zM74.0 277.5h2V279.8h-2zM77.0 275.0h2V277.0h-2zM80.0 266.8h2V276.0h-2zM83.0 256.8h2V266.0h-2zM86.0 253.0h2V254.5h-2zM92.0 258.6h2V260.0h-2zM95.0 260.0h2V261.4h-2zM104.0 275.9h2V284.0h-2zM116.0 283.0h2V287.0h-2zM131.0 313.8h2V316.5h-2zM137.0 320.0h2V324.8h-2zM140.0 313.0h2V315.0h-2zM143.0 300.7h2V311.7h-2zM149.0 292.4h2V298.0h-2zM152.0 289.7h2V292.4h-2zM164.0 275.0h2V281.4h-2zM173.0 284.4h2V290.0h-2zM176.0 290.0h2V292.7h-2zM194.0 391.0h2V395.0h-2zM200.0 365.0h2V378.0h-2zM203.0 360.0h2V365.0h-2zM206.0 345.0h2V355.0h-2zM209.0 331.0h2V343.8h-2zM212.0 322.6h2V331.8h-2zM215.0 313.9h2V316.0h-2zM227.0 344.4h2V351.4h-2zM230.0 336.3h2V343.9h-2zM242.0 330.0h2V337.4h-2zM248.0 331.0h2V335.8h-2zM257.0 332.0h2V336.3h-2zM260.0 327.7h2V336.3h-2zM269.0 333.0h2V336.3h-2zM275.0 330.0h2V335.8h-2zM281.0 328.3h2V334.7h-2zM284.0 326.7h2V329.4h-2zM293.0 329.4h2V331.5h-2zM299.0 332.0h2V335.3h-2zM302.0 332.6h2V335.3h-2zM305.0 329.4h2V332.0h-2zM308.0 325.0h2V330.4h-2zM317.0 336.3h2V338.0h-2zM320.0 340.0h2V342.0h-2zM326.0 339.6h2V342.0h-2zM329.0 340.6h2V342.0h-2zM338.0 345.5h2V350.8h-2zM341.0 335.8h2V343.3h-2zM344.0 334.2h2V339.6h-2zM347.0 332.0h2V335.8h-2zM350.0 326.0h2V330.5h-2zM356.0 323.5h2V327.3h-2zM359.0 322.4h2V325.0h-2zM362.0 321.0h2V324.0h-2zM365.0 320.3h2V322.0h-2zM368.0 315.5h2V320.8h-2zM371.0 308.0h2V313.9h-2zM377.0 307.4h2V313.3h-2zM380.0 299.4h2V305.8h-2zM383.0 294.5h2V298.3h-2zM392.0 290.2h2V296.0h-2zM395.0 277.9h2V286.0h-2zM404.0 283.8h2V287.5h-2zM407.0 281.0h2V283.3h-2zM428.0 299.0h2V304.4h-2zM431.0 295.8h2V298.0h-2zM434.0 292.5h2V296.3h-2zM437.0 290.0h2V293.0h-2zM440.0 304.4h2V306.5h-2zM443.0 300.0h2V305.4h-2zM449.0 303.8h2V306.5h-2zM452.0 298.5h2V299.5h-2zM461.0 307.0h2V311.3h-2zM464.0 300.0h2V307.6h-2zM467.0 301.0h2V306.0h-2zM470.0 298.0h2V300.0h-2zM482.0 306.8h2V311.0h-2zM488.0 307.4h2V310.6h-2zM491.0 302.5h2V307.4h-2zM497.0 295.6h2V304.7h-2zM509.0 302.0h2V306.3h-2zM512.0 299.3h2V301.5h-2zM518.0 302.0h2V304.7h-2zM536.0 318.0h2V320.0h-2zM545.0 330.0h2V333.3h-2zM548.0 325.8h2V329.0h-2zM551.0 322.0h2V325.8h-2zM554.0 318.3h2V323.0h-2zM557.0 306.5h2V319.4h-2zM560.0 302.7h2V306.5h-2zM563.0 302.0h2V303.8h-2zM566.0 298.0h2V302.7h-2zM569.0 298.5h2V299.5h-2zM575.0 300.0h2V304.4h-2zM581.0 305.0h2V306.0h-2zM587.0 303.8h2V306.0h-2zM593.0 302.7h2V305.0h-2zM605.0 301.0h2V304.6h-2zM608.0 294.5h2V303.0h-2zM614.0 292.0h2V299.6h-2zM626.0 291.0h2V301.2h-2zM629.0 285.2h2V291.0h-2zM635.0 236.3h2V254.0h-2zM638.0 218.6h2V235.5h-2zM641.0 210.0h2V218.6h-2zM647.0 219.5h2V231.3h-2zM677.0 221.0h2V227.0h-2zM680.0 210.8h2V217.6h-2zM686.0 199.0h2V202.4h-2zM701.0 199.0h2V205.8h-2zM707.0 187.2h2V192.3h-2zM710.0 183.0h2V192.3h-2zM713.0 175.4h2V182.0h-2zM716.0 175.4h2V186.4h-2zM719.0 172.9h2V174.6h-2zM725.0 156.0h2V163.4h-2zM734.0 156.6h2V158.4h-2zM740.0 154.0h2V159.0h-2zM746.0 154.8h2V157.2h-2zM749.0 149.2h2V152.3h-2zM752.0 138.8h2V148.0h-2zM758.0 139.4h2V142.5h-2zM764.0 151.7h2V155.4h-2zM767.0 141.2h2V143.0h-2zM770.0 140.6h2V147.4h-2zM773.0 129.6h2V141.9h-2zM776.0 126.5h2V127.5h-2zM782.0 130.0h2V137.0h-2zM785.0 125.0h2V128.0h-2zM788.0 118.3h2V123.0h-2zM791.0 84.5h2V115.6h-2zM797.0 78.3h2V86.6h-2zM803.0 81.0h2V86.6h-2zM812.0 85.2h2V87.3h-2zM815.0 77.0h2V88.7h-2zM818.0 83.0h2V85.0h-2zM821.0 87.3h2V91.4h-2zM824.0 80.4h2V87.3h-2zM827.0 82.4h2V83.8h-2zM830.0 81.0h2V83.0h-2zM833.0 60.8h2V73.5h-2z" fill="#1fb08f"/><path d="M8.0 276.8h2V290.6h-2zM11.0 294.0h2V297.5h-2zM14.0 296.7h2V298.0h-2zM17.0 293.6h2V301.3h-2zM29.0 284.4h2V293.0h-2zM32.0 285.0h2V293.0h-2zM35.0 287.5h2V290.0h-2zM38.0 286.0h2V292.0h-2zM44.0 283.7h2V293.0h-2zM53.0 275.0h2V282.0h-2zM56.0 283.0h2V287.5h-2zM59.0 276.0h2V282.0h-2zM65.0 271.4h2V275.2h-2zM68.0 274.5h2V276.8h-2zM71.0 277.5h2V280.6h-2zM89.0 257.6h2V260.0h-2zM98.0 262.0h2V265.0h-2zM101.0 280.0h2V285.5h-2zM107.0 282.0h2V285.5h-2zM110.0 283.4h2V285.5h-2zM113.0 284.0h2V287.0h-2zM119.0 281.4h2V286.0h-2zM122.0 282.0h2V287.0h-2zM125.0 289.0h2V293.0h-2zM128.0 296.5h2V311.0h-2zM134.0 316.0h2V319.3h-2zM146.0 296.0h2V303.4h-2zM155.0 290.3h2V293.8h-2zM158.0 284.8h2V287.0h-2zM161.0 280.0h2V282.8h-2zM167.0 270.3h2V281.4h-2zM170.0 280.8h2V285.8h-2zM179.0 295.0h2V314.8h-2zM182.0 352.0h2V414.0h-2zM185.0 408.0h2V418.0h-2zM188.0 404.0h2V416.0h-2zM191.0 352.0h2V382.0h-2zM197.0 380.0h2V384.0h-2zM218.0 311.0h2V319.4h-2zM221.0 336.0h2V348.4h-2zM224.0 344.4h2V352.0h-2zM233.0 329.4h2V335.8h-2zM236.0 330.4h2V334.7h-2zM239.0 331.0h2V334.0h-2zM245.0 333.7h2V336.3h-2zM251.0 320.0h2V327.0h-2zM254.0 328.8h2V335.8h-2zM263.0 327.2h2V332.6h-2zM266.0 328.3h2V334.2h-2zM272.0 334.7h2V336.3h-2zM278.0 333.7h2V335.8h-2zM287.0 323.0h2V326.0h-2zM290.0 325.0h2V332.6h-2zM296.0 331.0h2V335.8h-2zM311.0 325.6h2V331.0h-2zM314.0 331.5h2V336.3h-2zM323.0 338.0h2V343.9h-2zM332.0 342.2h2V345.5h-2zM335.0 345.5h2V349.8h-2zM353.0 328.3h2V331.6h-2zM374.0 310.0h2V312.8h-2zM386.0 291.8h2V296.0h-2zM389.0 295.0h2V298.3h-2zM398.0 274.7h2V281.0h-2zM401.0 280.0h2V285.4h-2zM410.0 284.0h2V287.5h-2zM413.0 285.5h2V290.6h-2zM416.0 290.4h2V294.0h-2zM419.0 289.3h2V293.0h-2zM422.0 294.0h2V301.7h-2zM425.0 302.0h2V305.4h-2zM446.0 296.8h2V307.6h-2zM455.0 298.5h2V300.0h-2zM458.0 304.4h2V311.3h-2zM473.0 295.8h2V302.7h-2zM476.0 304.4h2V309.7h-2zM479.0 307.4h2V309.0h-2zM485.0 306.8h2V308.5h-2zM494.0 301.5h2V305.2h-2zM500.0 294.0h2V302.0h-2zM503.0 300.4h2V304.0h-2zM506.0 304.7h2V309.0h-2zM515.0 299.3h2V303.0h-2zM521.0 303.6h2V305.2h-2zM524.0 304.7h2V311.7h-2zM527.0 312.2h2V317.0h-2zM530.0 318.0h2V321.9h-2zM533.0 320.8h2V323.5h-2zM539.0 319.7h2V326.7h-2zM542.0 327.2h2V332.6h-2zM572.0 299.0h2V302.0h-2zM578.0 303.8h2V308.0h-2zM584.0 302.0h2V304.4h-2zM590.0 306.0h2V308.0h-2zM596.0 303.3h2V305.4h-2zM599.0 304.4h2V306.5h-2zM602.0 304.4h2V306.5h-2zM611.0 300.4h2V303.0h-2zM617.0 290.3h2V293.7h-2zM620.0 288.6h2V292.0h-2zM623.0 291.0h2V293.7h-2zM632.0 255.0h2V257.4h-2zM644.0 209.3h2V213.5h-2zM650.0 223.7h2V227.0h-2zM653.0 228.0h2V233.8h-2zM656.0 231.3h2V238.8h-2zM659.0 232.0h2V234.4h-2zM662.0 235.3h2V243.0h-2zM665.0 238.6h2V243.0h-2zM668.0 236.3h2V239.7h-2zM671.0 231.3h2V234.6h-2zM674.0 228.5h2V232.0h-2zM683.0 206.6h2V208.3h-2zM689.0 197.3h2V199.9h-2zM692.0 199.0h2V201.5h-2zM695.0 204.0h2V210.8h-2zM698.0 205.8h2V208.3h-2zM704.0 196.0h2V198.5h-2zM722.0 163.6h2V171.3h-2zM728.0 151.7h2V153.5h-2zM731.0 153.5h2V159.7h-2zM737.0 153.0h2V162.0h-2zM743.0 154.8h2V160.3h-2zM755.0 137.6h2V145.0h-2zM761.0 148.0h2V157.8h-2zM779.0 128.7h2V132.0h-2zM794.0 84.5h2V97.0h-2zM800.0 82.4h2V83.8h-2zM806.0 79.7h2V88.0h-2zM809.0 88.0h2V95.0h-2z" fill="#ec4563"/></g><path d="M5.0 60.7H864.5" stroke="#1f2331" stroke-width="1"/><g clip-path="url(#cmacd)"><path d="M5.0 489.6H864.5" stroke="#2a2e39" stroke-width="0.8"/><path d="M4.75 485.87h2.5V489.60h-2.5zM64.75 489.43h2.5V489.73h-2.5zM67.75 489.42h2.5V489.72h-2.5zM79.75 489.17h2.5V489.60h-2.5zM82.75 488.36h2.5V489.60h-2.5zM85.75 487.75h2.5V489.60h-2.5zM151.75 489.20h2.5V489.60h-2.5zM154.75 488.71h2.5V489.60h-2.5zM157.75 488.01h2.5V489.60h-2.5zM160.75 487.36h2.5V489.60h-2.5zM163.75 486.57h2.5V489.60h-2.5zM208.75 487.20h2.5V489.60h-2.5zM211.75 484.91h2.5V489.60h-2.5zM214.75 483.05h2.5V489.60h-2.5zM217.75 482.41h2.5V489.60h-2.5zM229.75 485.81h2.5V489.60h-2.5zM241.75 486.06h2.5V489.60h-2.5zM250.75 486.59h2.5V489.60h-2.5zM259.75 487.44h2.5V489.60h-2.5zM274.75 488.79h2.5V489.60h-2.5zM280.75 488.89h2.5V489.60h-2.5zM283.75 488.70h2.5V489.60h-2.5zM286.75 488.58h2.5V489.60h-2.5zM304.75 489.53h2.5V489.83h-2.5zM307.75 489.20h2.5V489.60h-2.5zM346.75 489.14h2.5V489.60h-2.5zM349.75 488.45h2.5V489.60h-2.5zM352.75 488.40h2.5V489.60h-2.5zM355.75 487.94h2.5V489.60h-2.5zM358.75 487.67h2.5V489.60h-2.5zM361.75 487.51h2.5V489.60h-2.5zM364.75 487.49h2.5V489.60h-2.5zM367.75 487.31h2.5V489.60h-2.5zM370.75 486.88h2.5V489.60h-2.5zM376.75 487.01h2.5V489.60h-2.5zM379.75 486.68h2.5V489.60h-2.5zM382.75 486.37h2.5V489.60h-2.5zM391.75 486.88h2.5V489.60h-2.5zM394.75 486.36h2.5V489.60h-2.5zM496.75 489.31h2.5V489.61h-2.5zM499.75 489.27h2.5V489.60h-2.5zM508.75 489.55h2.5V489.85h-2.5zM511.75 489.27h2.5V489.60h-2.5zM517.75 489.31h2.5V489.61h-2.5zM556.75 488.95h2.5V489.60h-2.5zM559.75 487.95h2.5V489.60h-2.5zM562.75 487.34h2.5V489.60h-2.5zM565.75 486.80h2.5V489.60h-2.5zM568.75 486.62h2.5V489.60h-2.5zM604.75 489.36h2.5V489.66h-2.5zM607.75 488.87h2.5V489.60h-2.5zM613.75 488.67h2.5V489.60h-2.5zM616.75 488.55h2.5V489.60h-2.5zM619.75 488.45h2.5V489.60h-2.5zM625.75 488.56h2.5V489.60h-2.5zM628.75 488.30h2.5V489.60h-2.5zM631.75 486.60h2.5V489.60h-2.5zM634.75 484.49h2.5V489.60h-2.5zM637.75 482.44h2.5V489.60h-2.5zM640.75 481.09h2.5V489.60h-2.5zM643.75 480.98h2.5V489.60h-2.5zM682.75 489.23h2.5V489.60h-2.5zM685.75 488.48h2.5V489.60h-2.5zM688.75 488.26h2.5V489.60h-2.5zM706.75 489.37h2.5V489.67h-2.5zM709.75 488.98h2.5V489.60h-2.5zM712.75 488.46h2.5V489.60h-2.5zM715.75 488.35h2.5V489.60h-2.5zM724.75 487.89h2.5V489.60h-2.5zM727.75 487.62h2.5V489.60h-2.5zM790.75 487.71h2.5V489.60h-2.5zM793.75 487.39h2.5V489.60h-2.5zM796.75 486.36h2.5V489.60h-2.5z" fill="#26a69a"/><path d="M7.75 487.15h2.5V489.60h-2.5zM10.75 488.56h2.5V489.60h-2.5zM88.75 487.94h2.5V489.60h-2.5zM91.75 488.13h2.5V489.60h-2.5zM94.75 488.47h2.5V489.60h-2.5zM97.75 489.11h2.5V489.60h-2.5zM166.75 486.58h2.5V489.60h-2.5zM169.75 486.98h2.5V489.60h-2.5zM172.75 487.27h2.5V489.60h-2.5zM175.75 487.88h2.5V489.60h-2.5zM220.75 483.96h2.5V489.60h-2.5zM223.75 485.33h2.5V489.60h-2.5zM226.75 485.85h2.5V489.60h-2.5zM232.75 485.86h2.5V489.60h-2.5zM235.75 485.95h2.5V489.60h-2.5zM238.75 486.08h2.5V489.60h-2.5zM244.75 486.54h2.5V489.60h-2.5zM247.75 486.64h2.5V489.60h-2.5zM253.75 487.19h2.5V489.60h-2.5zM256.75 487.45h2.5V489.60h-2.5zM262.75 487.82h2.5V489.60h-2.5zM265.75 488.24h2.5V489.60h-2.5zM268.75 488.48h2.5V489.60h-2.5zM271.75 488.88h2.5V489.60h-2.5zM277.75 489.11h2.5V489.60h-2.5zM289.75 488.95h2.5V489.60h-2.5zM292.75 489.03h2.5V489.60h-2.5zM295.75 489.49h2.5V489.79h-2.5zM298.75 489.57h2.5V489.87h-2.5zM310.75 489.37h2.5V489.67h-2.5zM373.75 487.06h2.5V489.60h-2.5zM385.75 486.48h2.5V489.60h-2.5zM388.75 486.90h2.5V489.60h-2.5zM397.75 486.45h2.5V489.60h-2.5zM400.75 487.01h2.5V489.60h-2.5zM403.75 487.48h2.5V489.60h-2.5zM406.75 487.82h2.5V489.60h-2.5zM409.75 488.60h2.5V489.60h-2.5zM412.75 489.41h2.5V489.71h-2.5zM502.75 489.37h2.5V489.67h-2.5zM514.75 489.32h2.5V489.62h-2.5zM520.75 489.50h2.5V489.80h-2.5zM571.75 486.85h2.5V489.60h-2.5zM574.75 487.01h2.5V489.60h-2.5zM577.75 487.70h2.5V489.60h-2.5zM580.75 488.06h2.5V489.60h-2.5zM583.75 488.34h2.5V489.60h-2.5zM586.75 488.54h2.5V489.60h-2.5zM589.75 488.98h2.5V489.60h-2.5zM592.75 488.98h2.5V489.60h-2.5zM595.75 489.19h2.5V489.60h-2.5zM598.75 489.41h2.5V489.71h-2.5zM601.75 489.57h2.5V489.87h-2.5zM610.75 489.12h2.5V489.60h-2.5zM622.75 488.57h2.5V489.60h-2.5zM646.75 481.82h2.5V489.60h-2.5zM649.75 483.31h2.5V489.60h-2.5zM652.75 485.11h2.5V489.60h-2.5zM655.75 486.92h2.5V489.60h-2.5zM658.75 488.08h2.5V489.60h-2.5zM661.75 489.55h2.5V489.85h-2.5zM691.75 488.43h2.5V489.60h-2.5zM694.75 489.29h2.5V489.60h-2.5zM718.75 488.36h2.5V489.60h-2.5zM721.75 488.49h2.5V489.60h-2.5zM730.75 488.08h2.5V489.60h-2.5zM733.75 488.44h2.5V489.60h-2.5zM736.75 489.22h2.5V489.60h-2.5zM739.75 489.43h2.5V489.73h-2.5zM799.75 486.37h2.5V489.60h-2.5zM802.75 486.54h2.5V489.60h-2.5zM805.75 487.40h2.5V489.60h-2.5zM808.75 488.65h2.5V489.60h-2.5zM811.75 489.08h2.5V489.60h-2.5zM814.75 489.09h2.5V489.60h-2.5z" fill="#b2dfdb"/><path d="M13.75 489.60h2.5V489.90h-2.5zM16.75 489.60h2.5V490.54h-2.5zM19.75 489.60h2.5V490.55h-2.5zM28.75 489.60h2.5V490.61h-2.5zM31.75 489.60h2.5V490.82h-2.5zM37.75 489.60h2.5V490.88h-2.5zM43.75 489.60h2.5V490.97h-2.5zM55.75 489.60h2.5V490.05h-2.5zM70.75 489.60h2.5V489.90h-2.5zM73.75 489.60h2.5V489.90h-2.5zM100.75 489.60h2.5V490.81h-2.5zM103.75 489.60h2.5V491.32h-2.5zM106.75 489.60h2.5V492.18h-2.5zM109.75 489.60h2.5V492.64h-2.5zM112.75 489.60h2.5V492.91h-2.5zM124.75 489.60h2.5V492.68h-2.5zM127.75 489.60h2.5V493.69h-2.5zM130.75 489.60h2.5V494.28h-2.5zM133.75 489.60h2.5V494.72h-2.5zM136.75 489.60h2.5V494.76h-2.5zM178.75 489.60h2.5V489.90h-2.5zM181.75 489.60h2.5V496.82h-2.5zM184.75 489.60h2.5V501.04h-2.5zM187.75 489.60h2.5V502.92h-2.5zM301.75 489.60h2.5V489.90h-2.5zM313.75 489.60h2.5V489.90h-2.5zM316.75 489.60h2.5V490.07h-2.5zM319.75 489.60h2.5V490.44h-2.5zM322.75 489.60h2.5V490.86h-2.5zM331.75 489.60h2.5V490.95h-2.5zM334.75 489.60h2.5V491.25h-2.5zM415.75 489.60h2.5V490.23h-2.5zM418.75 489.60h2.5V490.74h-2.5zM421.75 489.60h2.5V491.61h-2.5zM424.75 489.60h2.5V492.35h-2.5zM427.75 489.60h2.5V492.37h-2.5zM439.75 489.60h2.5V491.80h-2.5zM442.75 489.60h2.5V491.82h-2.5zM445.75 489.60h2.5V492.21h-2.5zM457.75 489.60h2.5V491.84h-2.5zM475.75 489.60h2.5V490.72h-2.5zM478.75 489.60h2.5V490.84h-2.5zM505.75 489.60h2.5V489.90h-2.5zM523.75 489.60h2.5V490.01h-2.5zM526.75 489.60h2.5V490.61h-2.5zM529.75 489.60h2.5V491.22h-2.5zM532.75 489.60h2.5V491.60h-2.5zM538.75 489.60h2.5V491.67h-2.5zM541.75 489.60h2.5V492.06h-2.5zM664.75 489.60h2.5V490.63h-2.5zM667.75 489.60h2.5V491.21h-2.5zM670.75 489.60h2.5V491.34h-2.5zM697.75 489.60h2.5V489.90h-2.5zM703.75 489.60h2.5V489.90h-2.5zM742.75 489.60h2.5V490.12h-2.5zM745.75 489.60h2.5V490.37h-2.5zM754.75 489.60h2.5V490.04h-2.5zM760.75 489.60h2.5V491.18h-2.5zM763.75 489.60h2.5V491.65h-2.5zM778.75 489.60h2.5V490.20h-2.5zM781.75 489.60h2.5V490.28h-2.5zM817.75 489.60h2.5V489.90h-2.5zM820.75 489.60h2.5V490.44h-2.5zM823.75 489.60h2.5V490.67h-2.5zM826.75 489.60h2.5V491.05h-2.5zM829.75 489.60h2.5V491.31h-2.5z" fill="#ff5252"/><path d="M22.75 489.60h2.5V490.46h-2.5zM25.75 489.60h2.5V490.30h-2.5zM34.75 489.60h2.5V490.78h-2.5zM40.75 489.60h2.5V490.85h-2.5zM46.75 489.60h2.5V489.97h-2.5zM49.75 489.60h2.5V489.90h-2.5zM52.75 489.60h2.5V489.90h-2.5zM58.75 489.60h2.5V489.97h-2.5zM61.75 489.60h2.5V489.90h-2.5zM76.75 489.60h2.5V489.90h-2.5zM115.75 489.60h2.5V492.72h-2.5zM118.75 489.60h2.5V492.64h-2.5zM121.75 489.60h2.5V492.53h-2.5zM139.75 489.60h2.5V494.07h-2.5zM142.75 489.60h2.5V492.65h-2.5zM145.75 489.60h2.5V491.71h-2.5zM148.75 489.60h2.5V490.32h-2.5zM190.75 489.60h2.5V501.32h-2.5zM193.75 489.60h2.5V500.12h-2.5zM196.75 489.60h2.5V498.28h-2.5zM199.75 489.60h2.5V495.39h-2.5zM202.75 489.60h2.5V492.82h-2.5zM205.75 489.60h2.5V489.99h-2.5zM325.75 489.60h2.5V490.80h-2.5zM328.75 489.60h2.5V490.76h-2.5zM337.75 489.60h2.5V491.08h-2.5zM340.75 489.60h2.5V490.31h-2.5zM343.75 489.60h2.5V489.90h-2.5zM430.75 489.60h2.5V492.13h-2.5zM433.75 489.60h2.5V491.72h-2.5zM436.75 489.60h2.5V491.27h-2.5zM448.75 489.60h2.5V492.14h-2.5zM451.75 489.60h2.5V491.69h-2.5zM454.75 489.60h2.5V491.41h-2.5zM460.75 489.60h2.5V491.76h-2.5zM463.75 489.60h2.5V491.21h-2.5zM466.75 489.60h2.5V490.85h-2.5zM469.75 489.60h2.5V490.40h-2.5zM472.75 489.60h2.5V490.36h-2.5zM481.75 489.60h2.5V490.74h-2.5zM484.75 489.60h2.5V490.71h-2.5zM487.75 489.60h2.5V490.57h-2.5zM490.75 489.60h2.5V490.14h-2.5zM493.75 489.60h2.5V489.99h-2.5zM535.75 489.60h2.5V491.40h-2.5zM544.75 489.60h2.5V491.99h-2.5zM547.75 489.60h2.5V491.54h-2.5zM550.75 489.60h2.5V490.90h-2.5zM553.75 489.60h2.5V490.17h-2.5zM673.75 489.60h2.5V491.32h-2.5zM676.75 489.60h2.5V490.72h-2.5zM679.75 489.60h2.5V489.90h-2.5zM700.75 489.60h2.5V489.90h-2.5zM748.75 489.60h2.5V490.34h-2.5zM751.75 489.60h2.5V489.90h-2.5zM757.75 489.60h2.5V489.98h-2.5zM766.75 489.60h2.5V491.38h-2.5zM769.75 489.60h2.5V491.24h-2.5zM772.75 489.60h2.5V490.57h-2.5zM775.75 489.60h2.5V490.07h-2.5zM784.75 489.60h2.5V490.15h-2.5zM787.75 489.60h2.5V489.90h-2.5zM832.75 489.60h2.5V490.37h-2.5z" fill="#ffcdd2"/><polyline points="6.0,477.86 9.0,478.52 12.0,479.67 15.0,480.72 18.0,481.89 21.0,482.14 24.0,482.27 27.0,482.29 30.0,482.84 33.0,483.36 36.0,483.61 39.0,484.03 42.0,484.31 45.0,484.77 48.0,483.87 51.0,483.74 54.0,483.70 57.0,484.15 60.0,484.15 63.0,483.92 66.0,483.60 69.0,483.54 72.0,483.84 75.0,483.91 78.0,483.85 81.0,483.26 84.0,482.14 87.0,481.07 90.0,480.84 93.0,480.66 96.0,480.72 99.0,481.24 102.0,483.24 105.0,484.18 108.0,485.68 111.0,486.90 114.0,488.00 117.0,488.59 120.0,489.28 123.0,489.89 126.0,490.81 129.0,492.84 132.0,494.60 135.0,496.33 138.0,497.65 141.0,498.09 144.0,497.42 147.0,497.02 150.0,495.80 153.0,494.59 156.0,493.88 159.0,492.77 162.0,491.56 165.0,490.02 168.0,489.27 171.0,489.02 174.0,488.72 177.0,488.91 180.0,490.89 183.0,499.70 186.0,506.79 189.0,512.00 192.0,513.33 195.0,514.76 198.0,515.08 201.0,513.65 204.0,511.88 207.0,509.15 210.0,505.75 213.0,502.29 216.0,498.80 219.0,496.36 222.0,496.50 225.0,496.79 228.0,496.39 231.0,495.39 234.0,494.51 237.0,493.69 240.0,492.94 243.0,492.03 246.0,491.75 249.0,491.11 252.0,490.30 255.0,490.31 258.0,490.02 261.0,489.48 264.0,489.42 267.0,489.49 270.0,489.46 273.0,489.67 276.0,489.38 279.0,489.58 282.0,489.19 285.0,488.77 288.0,488.39 291.0,488.60 294.0,488.54 297.0,488.97 300.0,489.04 303.0,489.14 306.0,489.00 309.0,488.56 312.0,488.68 315.0,489.16 318.0,489.55 321.0,490.13 324.0,490.86 327.0,491.10 330.0,491.35 333.0,491.88 336.0,492.59 339.0,492.79 342.0,492.21 345.0,491.60 348.0,490.94 351.0,489.96 354.0,489.61 357.0,488.73 360.0,487.98 363.0,487.30 366.0,486.75 369.0,485.99 372.0,484.89 375.0,484.44 378.0,483.74 381.0,482.68 384.0,481.56 387.0,480.89 390.0,480.63 393.0,479.94 396.0,478.60 399.0,477.90 402.0,477.82 405.0,477.76 408.0,477.65 411.0,478.18 414.0,478.95 417.0,479.92 420.0,480.72 423.0,482.09 426.0,483.52 429.0,484.24 432.0,484.62 435.0,484.74 438.0,484.71 441.0,485.79 444.0,486.37 447.0,487.41 450.0,487.97 453.0,488.04 456.0,488.22 459.0,489.21 462.0,489.67 465.0,489.52 468.0,489.48 471.0,489.22 474.0,489.37 477.0,490.01 480.0,490.45 483.0,490.62 486.0,490.87 489.0,490.97 492.0,490.68 495.0,490.63 498.0,489.88 501.0,489.75 504.0,489.80 507.0,490.21 510.0,490.00 513.0,489.64 516.0,489.62 519.0,489.54 522.0,489.71 525.0,490.32 528.0,491.17 531.0,492.19 534.0,493.07 537.0,493.32 540.0,494.11 543.0,495.11 546.0,495.64 549.0,495.68 552.0,495.36 555.0,494.78 558.0,493.39 561.0,491.98 564.0,490.80 567.0,489.57 570.0,488.64 573.0,488.18 576.0,487.69 579.0,487.92 582.0,487.89 585.0,487.85 588.0,487.79 591.0,488.07 594.0,487.92 597.0,488.02 600.0,488.20 603.0,488.35 606.0,488.08 609.0,487.41 612.0,487.54 615.0,486.85 618.0,486.47 621.0,486.08 624.0,485.94 627.0,485.67 630.0,485.09 633.0,482.63 636.0,479.24 639.0,475.41 642.0,471.93 645.0,469.67 648.0,468.56 651.0,468.48 654.0,469.16 657.0,470.29 660.0,471.08 663.0,472.54 666.0,473.87 669.0,474.85 672.0,475.42 675.0,475.83 678.0,475.50 681.0,474.66 684.0,473.99 687.0,472.95 690.0,472.40 693.0,472.28 696.0,473.06 699.0,473.68 702.0,473.67 705.0,473.80 708.0,473.26 711.0,472.71 714.0,471.91 717.0,471.49 720.0,471.18 723.0,471.03 726.0,470.00 729.0,469.24 732.0,469.33 735.0,469.40 738.0,470.08 741.0,470.25 744.0,471.07 747.0,471.51 750.0,471.66 753.0,471.21 756.0,471.53 759.0,471.57 762.0,473.16 765.0,474.15 768.0,474.32 771.0,474.59 774.0,474.17 777.0,473.78 780.0,474.06 783.0,474.31 786.0,474.32 789.0,474.00 792.0,471.45 795.0,470.58 798.0,468.74 801.0,467.94 804.0,467.35 807.0,467.66 810.0,468.67 813.0,468.97 816.0,468.85 819.0,469.43 822.0,470.42 825.0,470.92 828.0,471.67 831.0,472.35 834.0,471.60" fill="none" stroke="#2962ff" stroke-width="0.9" stroke-linejoin="round" stroke-opacity="0.7"/><polyline points="6.0,481.59 9.0,480.98 12.0,480.72 15.0,480.72 18.0,480.95 21.0,481.19 24.0,481.41 27.0,481.58 30.0,481.83 33.0,482.14 36.0,482.43 39.0,482.75 42.0,483.07 45.0,483.41 48.0,483.50 51.0,483.55 54.0,483.58 57.0,483.69 60.0,483.78 63.0,483.81 66.0,483.77 69.0,483.72 72.0,483.75 75.0,483.78 78.0,483.79 81.0,483.69 84.0,483.38 87.0,482.92 90.0,482.50 93.0,482.13 96.0,481.85 99.0,481.73 102.0,482.03 105.0,482.46 108.0,483.10 111.0,483.86 114.0,484.69 117.0,485.47 120.0,486.23 123.0,486.96 126.0,487.73 129.0,488.76 132.0,489.93 135.0,491.21 138.0,492.50 141.0,493.61 144.0,494.38 147.0,494.90 150.0,495.08 153.0,494.98 156.0,494.76 159.0,494.36 162.0,493.80 165.0,493.05 168.0,492.29 171.0,491.64 174.0,491.05 177.0,490.63 180.0,490.68 183.0,492.48 186.0,495.34 189.0,498.67 192.0,501.61 195.0,504.24 198.0,506.40 201.0,507.85 204.0,508.66 207.0,508.76 210.0,508.16 213.0,506.98 216.0,505.34 219.0,503.55 222.0,502.14 225.0,501.07 228.0,500.13 231.0,499.18 234.0,498.25 237.0,497.34 240.0,496.46 243.0,495.57 246.0,494.81 249.0,494.07 252.0,493.32 255.0,492.71 258.0,492.18 261.0,491.64 264.0,491.19 267.0,490.85 270.0,490.57 273.0,490.39 276.0,490.19 279.0,490.07 282.0,489.89 285.0,489.67 288.0,489.41 291.0,489.25 294.0,489.11 297.0,489.08 300.0,489.07 303.0,489.09 306.0,489.07 309.0,488.97 312.0,488.91 315.0,488.96 318.0,489.08 321.0,489.29 324.0,489.60 327.0,489.90 330.0,490.19 333.0,490.53 336.0,490.94 339.0,491.31 342.0,491.49 345.0,491.51 348.0,491.40 351.0,491.11 354.0,490.81 357.0,490.40 360.0,489.91 363.0,489.39 366.0,488.86 369.0,488.29 372.0,487.61 375.0,486.98 378.0,486.33 381.0,485.60 384.0,484.79 387.0,484.01 390.0,483.33 393.0,482.66 396.0,481.84 399.0,481.06 402.0,480.41 405.0,479.88 408.0,479.43 411.0,479.18 414.0,479.14 417.0,479.29 420.0,479.58 423.0,480.08 426.0,480.77 429.0,481.46 432.0,482.09 435.0,482.62 438.0,483.04 441.0,483.59 444.0,484.15 447.0,484.80 450.0,485.43 453.0,485.95 456.0,486.41 459.0,486.97 462.0,487.51 465.0,487.91 468.0,488.23 471.0,488.43 474.0,488.62 477.0,488.89 480.0,489.21 483.0,489.49 486.0,489.77 489.0,490.01 492.0,490.14 495.0,490.24 498.0,490.17 501.0,490.08 504.0,490.03 507.0,490.06 510.0,490.05 513.0,489.97 516.0,489.90 519.0,489.83 522.0,489.80 525.0,489.91 528.0,490.16 531.0,490.57 534.0,491.07 537.0,491.52 540.0,492.04 543.0,492.65 546.0,493.25 549.0,493.74 552.0,494.06 555.0,494.20 558.0,494.04 561.0,493.63 564.0,493.06 567.0,492.37 570.0,491.62 573.0,490.93 576.0,490.28 579.0,489.81 582.0,489.43 585.0,489.11 588.0,488.85 591.0,488.69 594.0,488.54 597.0,488.43 600.0,488.39 603.0,488.38 606.0,488.32 609.0,488.14 612.0,488.02 615.0,487.78 618.0,487.52 621.0,487.23 624.0,486.97 627.0,486.71 630.0,486.39 633.0,485.64 636.0,484.36 639.0,482.57 642.0,480.44 645.0,478.29 648.0,476.34 651.0,474.77 654.0,473.65 657.0,472.98 660.0,472.60 663.0,472.58 666.0,472.84 669.0,473.24 672.0,473.68 675.0,474.11 678.0,474.39 681.0,474.44 684.0,474.35 687.0,474.07 690.0,473.74 693.0,473.44 696.0,473.37 699.0,473.43 702.0,473.48 705.0,473.54 708.0,473.49 711.0,473.33 714.0,473.05 717.0,472.73 720.0,472.42 723.0,472.15 726.0,471.72 729.0,471.22 732.0,470.84 735.0,470.55 738.0,470.46 741.0,470.42 744.0,470.55 747.0,470.74 750.0,470.92 753.0,470.98 756.0,471.09 759.0,471.19 762.0,471.58 765.0,472.10 768.0,472.54 771.0,472.95 774.0,473.19 777.0,473.31 780.0,473.46 783.0,473.63 786.0,473.77 789.0,473.82 792.0,473.34 795.0,472.79 798.0,471.98 801.0,471.17 804.0,470.41 807.0,469.86 810.0,469.62 813.0,469.49 816.0,469.36 819.0,469.38 822.0,469.59 825.0,469.85 828.0,470.21 831.0,470.64 834.0,470.83" fill="none" stroke="#ff6d00" stroke-width="0.9" stroke-linejoin="round" stroke-opacity="0.7"/></g><g clip-path="url(#crsi)"><rect x="5.0" y="533.9" width="859.5" height="18.8" fill="#7e57c2" fill-opacity="0.13"/><path d="M5.0 533.9H864.5M5.0 552.7H864.5" stroke="#787b86" stroke-width="0.6" stroke-dasharray="1.5 1.5" opacity="0.6"/><path d="M5.0 543.3H864.5" stroke="#787b86" stroke-width="0.5" stroke-dasharray="1 1.5" opacity="0.35"/><clipPath id="cob"><rect x="5.0" y="500" width="859.5" height="33.50"/></clipPath><clipPath id="cos"><rect x="5.0" y="553.10" width="859.5" height="30"/></clipPath><linearGradient id="gob" gradientUnits="userSpaceOnUse" x1="0" y1="533.90" x2="0" y2="525.44"><stop offset="0" stop-color="#22a07a" stop-opacity="0.05"/><stop offset="1" stop-color="#22a07a" stop-opacity="0.95"/></linearGradient><linearGradient id="gos" gradientUnits="userSpaceOnUse" x1="0" y1="552.70" x2="0" y2="559.75"><stop offset="0" stop-color="#f23645" stop-opacity="0.15"/><stop offset="1" stop-color="#f23645" stop-opacity="1"/></linearGradient><polygon clip-path="url(#cob)" points="6.0,533.90 6.0,529.11 9.0,538.89 12.0,541.08 15.0,541.24 18.0,542.30 21.0,539.55 24.0,539.05 27.0,538.47 30.0,540.78 33.0,540.78 36.0,539.88 39.0,540.68 42.0,540.22 45.0,541.26 48.0,536.11 51.0,538.91 54.0,538.91 57.0,541.06 60.0,539.43 63.0,538.32 66.0,537.56 69.0,538.28 72.0,539.97 75.0,538.97 78.0,538.18 81.0,535.86 84.0,533.57 87.0,532.81 90.0,536.16 93.0,535.82 96.0,536.50 99.0,538.85 102.0,545.99 105.0,543.00 108.0,545.61 111.0,545.61 114.0,546.02 117.0,544.63 120.0,545.54 123.0,545.85 126.0,547.64 129.0,551.80 132.0,552.32 135.0,553.32 138.0,553.45 141.0,550.36 144.0,545.85 147.0,546.55 150.0,543.10 153.0,542.33 156.0,543.59 159.0,541.59 162.0,540.44 165.0,538.47 168.0,540.68 171.0,542.10 174.0,541.69 177.0,543.53 180.0,549.55 183.0,558.64 186.0,558.82 189.0,558.36 192.0,551.46 195.0,552.20 198.0,550.94 201.0,547.75 204.0,546.96 207.0,544.69 210.0,542.76 213.0,541.66 216.0,540.56 219.0,541.43 222.0,545.46 225.0,545.90 228.0,544.73 231.0,543.50 234.0,543.42 237.0,543.24 240.0,543.12 243.0,542.39 246.0,543.62 249.0,542.58 252.0,541.80 255.0,543.67 258.0,542.87 261.0,541.96 264.0,543.11 267.0,543.48 270.0,543.18 273.0,544.04 276.0,542.36 279.0,543.93 282.0,541.94 285.0,541.53 288.0,541.35 291.0,543.41 294.0,542.45 297.0,544.40 300.0,543.20 303.0,543.40 306.0,542.33 309.0,540.92 312.0,543.10 315.0,544.86 318.0,544.86 321.0,546.10 324.0,547.36 327.0,545.51 330.0,545.86 333.0,547.54 336.0,548.89 339.0,546.84 342.0,542.89 345.0,542.31 348.0,541.49 351.0,539.41 354.0,541.82 357.0,539.17 360.0,538.83 363.0,538.39 366.0,538.16 369.0,536.63 372.0,534.56 375.0,537.08 378.0,535.59 381.0,533.67 384.0,532.64 387.0,533.46 390.0,534.72 393.0,532.85 396.0,530.62 399.0,532.22 402.0,534.41 405.0,534.06 408.0,533.44 411.0,536.72 414.0,538.16 417.0,539.70 420.0,539.37 423.0,543.08 426.0,544.47 429.0,542.05 432.0,540.93 435.0,539.82 438.0,538.99 441.0,544.66 444.0,543.10 447.0,545.58 450.0,544.20 453.0,542.39 456.0,542.93 459.0,546.56 462.0,544.99 465.0,542.64 468.0,542.98 471.0,541.97 474.0,543.68 477.0,545.97 480.0,545.69 483.0,544.80 486.0,545.41 489.0,544.93 492.0,542.82 495.0,543.95 498.0,540.24 501.0,542.88 504.0,543.65 507.0,545.51 510.0,542.74 513.0,541.75 516.0,543.24 519.0,542.85 522.0,544.17 525.0,546.62 528.0,548.37 531.0,549.83 534.0,550.30 537.0,547.51 540.0,550.11 543.0,551.60 546.0,550.31 549.0,548.28 552.0,546.56 555.0,544.96 558.0,540.67 561.0,539.51 564.0,539.29 567.0,538.06 570.0,538.30 573.0,540.00 576.0,539.29 579.0,542.93 582.0,541.76 585.0,541.52 588.0,541.27 591.0,543.31 594.0,541.01 597.0,542.32 600.0,542.86 603.0,542.86 606.0,540.26 609.0,537.70 612.0,542.06 615.0,538.21 618.0,539.01 621.0,538.45 624.0,539.32 627.0,538.35 630.0,536.44 633.0,530.66 636.0,528.26 639.0,526.85 642.0,526.29 645.0,527.66 648.0,529.97 651.0,532.68 654.0,534.96 657.0,536.56 660.0,535.80 663.0,538.51 666.0,538.51 669.0,537.81 672.0,536.75 675.0,536.22 678.0,534.18 681.0,532.59 684.0,532.23 687.0,530.96 690.0,531.33 693.0,532.04 696.0,535.86 699.0,535.36 702.0,533.65 705.0,533.56 708.0,531.73 711.0,531.12 714.0,530.10 717.0,530.10 720.0,529.76 723.0,529.54 726.0,527.72 729.0,527.46 732.0,530.55 735.0,530.11 738.0,532.71 741.0,531.40 744.0,534.20 747.0,533.20 750.0,532.26 753.0,530.72 756.0,533.37 759.0,532.46 762.0,539.03 765.0,537.80 768.0,535.89 771.0,535.79 774.0,533.98 777.0,533.51 780.0,535.49 783.0,535.14 786.0,534.25 789.0,533.13 792.0,529.19 795.0,533.15 798.0,531.22 801.0,532.78 804.0,532.47 807.0,534.52 810.0,536.46 813.0,535.07 816.0,534.01 819.0,535.72 822.0,536.92 825.0,535.85 828.0,536.44 831.0,536.20 834.0,533.23 834.0,533.90" fill="url(#gob)"/><polygon clip-path="url(#cos)" points="6.0,552.70 6.0,529.11 9.0,538.89 12.0,541.08 15.0,541.24 18.0,542.30 21.0,539.55 24.0,539.05 27.0,538.47 30.0,540.78 33.0,540.78 36.0,539.88 39.0,540.68 42.0,540.22 45.0,541.26 48.0,536.11 51.0,538.91 54.0,538.91 57.0,541.06 60.0,539.43 63.0,538.32 66.0,537.56 69.0,538.28 72.0,539.97 75.0,538.97 78.0,538.18 81.0,535.86 84.0,533.57 87.0,532.81 90.0,536.16 93.0,535.82 96.0,536.50 99.0,538.85 102.0,545.99 105.0,543.00 108.0,545.61 111.0,545.61 114.0,546.02 117.0,544.63 120.0,545.54 123.0,545.85 126.0,547.64 129.0,551.80 132.0,552.32 135.0,553.32 138.0,553.45 141.0,550.36 144.0,545.85 147.0,546.55 150.0,543.10 153.0,542.33 156.0,543.59 159.0,541.59 162.0,540.44 165.0,538.47 168.0,540.68 171.0,542.10 174.0,541.69 177.0,543.53 180.0,549.55 183.0,558.64 186.0,558.82 189.0,558.36 192.0,551.46 195.0,552.20 198.0,550.94 201.0,547.75 204.0,546.96 207.0,544.69 210.0,542.76 213.0,541.66 216.0,540.56 219.0,541.43 222.0,545.46 225.0,545.90 228.0,544.73 231.0,543.50 234.0,543.42 237.0,543.24 240.0,543.12 243.0,542.39 246.0,543.62 249.0,542.58 252.0,541.80 255.0,543.67 258.0,542.87 261.0,541.96 264.0,543.11 267.0,543.48 270.0,543.18 273.0,544.04 276.0,542.36 279.0,543.93 282.0,541.94 285.0,541.53 288.0,541.35 291.0,543.41 294.0,542.45 297.0,544.40 300.0,543.20 303.0,543.40 306.0,542.33 309.0,540.92 312.0,543.10 315.0,544.86 318.0,544.86 321.0,546.10 324.0,547.36 327.0,545.51 330.0,545.86 333.0,547.54 336.0,548.89 339.0,546.84 342.0,542.89 345.0,542.31 348.0,541.49 351.0,539.41 354.0,541.82 357.0,539.17 360.0,538.83 363.0,538.39 366.0,538.16 369.0,536.63 372.0,534.56 375.0,537.08 378.0,535.59 381.0,533.67 384.0,532.64 387.0,533.46 390.0,534.72 393.0,532.85 396.0,530.62 399.0,532.22 402.0,534.41 405.0,534.06 408.0,533.44 411.0,536.72 414.0,538.16 417.0,539.70 420.0,539.37 423.0,543.08 426.0,544.47 429.0,542.05 432.0,540.93 435.0,539.82 438.0,538.99 441.0,544.66 444.0,543.10 447.0,545.58 450.0,544.20 453.0,542.39 456.0,542.93 459.0,546.56 462.0,544.99 465.0,542.64 468.0,542.98 471.0,541.97 474.0,543.68 477.0,545.97 480.0,545.69 483.0,544.80 486.0,545.41 489.0,544.93 492.0,542.82 495.0,543.95 498.0,540.24 501.0,542.88 504.0,543.65 507.0,545.51 510.0,542.74 513.0,541.75 516.0,543.24 519.0,542.85 522.0,544.17 525.0,546.62 528.0,548.37 531.0,549.83 534.0,550.30 537.0,547.51 540.0,550.11 543.0,551.60 546.0,550.31 549.0,548.28 552.0,546.56 555.0,544.96 558.0,540.67 561.0,539.51 564.0,539.29 567.0,538.06 570.0,538.30 573.0,540.00 576.0,539.29 579.0,542.93 582.0,541.76 585.0,541.52 588.0,541.27 591.0,543.31 594.0,541.01 597.0,542.32 600.0,542.86 603.0,542.86 606.0,540.26 609.0,537.70 612.0,542.06 615.0,538.21 618.0,539.01 621.0,538.45 624.0,539.32 627.0,538.35 630.0,536.44 633.0,530.66 636.0,528.26 639.0,526.85 642.0,526.29 645.0,527.66 648.0,529.97 651.0,532.68 654.0,534.96 657.0,536.56 660.0,535.80 663.0,538.51 666.0,538.51 669.0,537.81 672.0,536.75 675.0,536.22 678.0,534.18 681.0,532.59 684.0,532.23 687.0,530.96 690.0,531.33 693.0,532.04 696.0,535.86 699.0,535.36 702.0,533.65 705.0,533.56 708.0,531.73 711.0,531.12 714.0,530.10 717.0,530.10 720.0,529.76 723.0,529.54 726.0,527.72 729.0,527.46 732.0,530.55 735.0,530.11 738.0,532.71 741.0,531.40 744.0,534.20 747.0,533.20 750.0,532.26 753.0,530.72 756.0,533.37 759.0,532.46 762.0,539.03 765.0,537.80 768.0,535.89 771.0,535.79 774.0,533.98 777.0,533.51 780.0,535.49 783.0,535.14 786.0,534.25 789.0,533.13 792.0,529.19 795.0,533.15 798.0,531.22 801.0,532.78 804.0,532.47 807.0,534.52 810.0,536.46 813.0,535.07 816.0,534.01 819.0,535.72 822.0,536.92 825.0,535.85 828.0,536.44 831.0,536.20 834.0,533.23 834.0,552.70" fill="url(#gos)"/><polyline points="6.0,529.11 9.0,538.89 12.0,541.08 15.0,541.24 18.0,542.30 21.0,539.55 24.0,539.05 27.0,538.47 30.0,540.78 33.0,540.78 36.0,539.88 39.0,540.68 42.0,540.22 45.0,541.26 48.0,536.11 51.0,538.91 54.0,538.91 57.0,541.06 60.0,539.43 63.0,538.32 66.0,537.56 69.0,538.28 72.0,539.97 75.0,538.97 78.0,538.18 81.0,535.86 84.0,533.57 87.0,532.81 90.0,536.16 93.0,535.82 96.0,536.50 99.0,538.85 102.0,545.99 105.0,543.00 108.0,545.61 111.0,545.61 114.0,546.02 117.0,544.63 120.0,545.54 123.0,545.85 126.0,547.64 129.0,551.80 132.0,552.32 135.0,553.32 138.0,553.45 141.0,550.36 144.0,545.85 147.0,546.55 150.0,543.10 153.0,542.33 156.0,543.59 159.0,541.59 162.0,540.44 165.0,538.47 168.0,540.68 171.0,542.10 174.0,541.69 177.0,543.53 180.0,549.55 183.0,558.64 186.0,558.82 189.0,558.36 192.0,551.46 195.0,552.20 198.0,550.94 201.0,547.75 204.0,546.96 207.0,544.69 210.0,542.76 213.0,541.66 216.0,540.56 219.0,541.43 222.0,545.46 225.0,545.90 228.0,544.73 231.0,543.50 234.0,543.42 237.0,543.24 240.0,543.12 243.0,542.39 246.0,543.62 249.0,542.58 252.0,541.80 255.0,543.67 258.0,542.87 261.0,541.96 264.0,543.11 267.0,543.48 270.0,543.18 273.0,544.04 276.0,542.36 279.0,543.93 282.0,541.94 285.0,541.53 288.0,541.35 291.0,543.41 294.0,542.45 297.0,544.40 300.0,543.20 303.0,543.40 306.0,542.33 309.0,540.92 312.0,543.10 315.0,544.86 318.0,544.86 321.0,546.10 324.0,547.36 327.0,545.51 330.0,545.86 333.0,547.54 336.0,548.89 339.0,546.84 342.0,542.89 345.0,542.31 348.0,541.49 351.0,539.41 354.0,541.82 357.0,539.17 360.0,538.83 363.0,538.39 366.0,538.16 369.0,536.63 372.0,534.56 375.0,537.08 378.0,535.59 381.0,533.67 384.0,532.64 387.0,533.46 390.0,534.72 393.0,532.85 396.0,530.62 399.0,532.22 402.0,534.41 405.0,534.06 408.0,533.44 411.0,536.72 414.0,538.16 417.0,539.70 420.0,539.37 423.0,543.08 426.0,544.47 429.0,542.05 432.0,540.93 435.0,539.82 438.0,538.99 441.0,544.66 444.0,543.10 447.0,545.58 450.0,544.20 453.0,542.39 456.0,542.93 459.0,546.56 462.0,544.99 465.0,542.64 468.0,542.98 471.0,541.97 474.0,543.68 477.0,545.97 480.0,545.69 483.0,544.80 486.0,545.41 489.0,544.93 492.0,542.82 495.0,543.95 498.0,540.24 501.0,542.88 504.0,543.65 507.0,545.51 510.0,542.74 513.0,541.75 516.0,543.24 519.0,542.85 522.0,544.17 525.0,546.62 528.0,548.37 531.0,549.83 534.0,550.30 537.0,547.51 540.0,550.11 543.0,551.60 546.0,550.31 549.0,548.28 552.0,546.56 555.0,544.96 558.0,540.67 561.0,539.51 564.0,539.29 567.0,538.06 570.0,538.30 573.0,540.00 576.0,539.29 579.0,542.93 582.0,541.76 585.0,541.52 588.0,541.27 591.0,543.31 594.0,541.01 597.0,542.32 600.0,542.86 603.0,542.86 606.0,540.26 609.0,537.70 612.0,542.06 615.0,538.21 618.0,539.01 621.0,538.45 624.0,539.32 627.0,538.35 630.0,536.44 633.0,530.66 636.0,528.26 639.0,526.85 642.0,526.29 645.0,527.66 648.0,529.97 651.0,532.68 654.0,534.96 657.0,536.56 660.0,535.80 663.0,538.51 666.0,538.51 669.0,537.81 672.0,536.75 675.0,536.22 678.0,534.18 681.0,532.59 684.0,532.23 687.0,530.96 690.0,531.33 693.0,532.04 696.0,535.86 699.0,535.36 702.0,533.65 705.0,533.56 708.0,531.73 711.0,531.12 714.0,530.10 717.0,530.10 720.0,529.76 723.0,529.54 726.0,527.72 729.0,527.46 732.0,530.55 735.0,530.11 738.0,532.71 741.0,531.40 744.0,534.20 747.0,533.20 750.0,532.26 753.0,530.72 756.0,533.37 759.0,532.46 762.0,539.03 765.0,537.80 768.0,535.89 771.0,535.79 774.0,533.98 777.0,533.51 780.0,535.49 783.0,535.14 786.0,534.25 789.0,533.13 792.0,529.19 795.0,533.15 798.0,531.22 801.0,532.78 804.0,532.47 807.0,534.52 810.0,536.46 813.0,535.07 816.0,534.01 819.0,535.72 822.0,536.92 825.0,535.85 828.0,536.44 831.0,536.20 834.0,533.23" fill="none" stroke="#8a72c6" stroke-width="0.8"/><polyline points="6.0,535.12 9.0,535.33 12.0,535.63 15.0,535.99 18.0,536.48 21.0,536.45 24.0,536.45 27.0,536.24 30.0,536.37 33.0,536.68 36.0,537.06 39.0,537.72 42.0,538.52 45.0,539.52 48.0,540.02 51.0,540.02 54.0,539.87 57.0,539.85 60.0,539.65 63.0,539.56 66.0,539.46 69.0,539.44 72.0,539.38 75.0,539.25 78.0,539.13 81.0,538.79 84.0,538.31 87.0,537.71 90.0,537.71 93.0,537.49 96.0,537.32 99.0,537.16 102.0,537.63 105.0,537.97 108.0,538.54 111.0,539.06 114.0,539.50 117.0,539.90 120.0,540.43 123.0,541.14 126.0,542.14 129.0,543.50 132.0,544.66 135.0,545.91 138.0,547.12 141.0,547.94 144.0,547.93 147.0,548.18 150.0,548.00 153.0,547.77 156.0,547.60 159.0,547.38 162.0,547.01 165.0,546.49 168.0,545.99 171.0,545.30 174.0,544.54 177.0,543.84 180.0,543.56 183.0,544.15 186.0,545.08 189.0,545.92 192.0,546.52 195.0,547.22 198.0,547.75 201.0,548.19 204.0,548.65 207.0,549.10 210.0,549.24 213.0,549.21 216.0,549.13 219.0,548.98 222.0,548.69 225.0,547.78 228.0,546.77 231.0,545.71 234.0,545.14 237.0,544.50 240.0,543.94 243.0,543.56 246.0,543.32 249.0,543.17 252.0,543.10 255.0,543.24 258.0,543.41 261.0,543.45 264.0,543.28 267.0,543.11 270.0,543.00 273.0,543.03 276.0,542.96 279.0,543.01 282.0,542.92 285.0,542.86 288.0,542.70 291.0,542.76 294.0,542.81 297.0,542.86 300.0,542.88 303.0,542.98 306.0,542.93 309.0,542.75 312.0,542.74 315.0,542.80 318.0,542.98 321.0,543.13 324.0,543.52 327.0,543.80 330.0,544.13 333.0,544.42 336.0,544.88 339.0,545.06 342.0,545.03 345.0,544.96 348.0,544.90 351.0,544.79 354.0,544.70 357.0,544.29 360.0,543.86 363.0,543.31 366.0,542.65 369.0,542.02 372.0,541.21 375.0,540.46 378.0,539.51 381.0,538.57 384.0,537.84 387.0,537.21 390.0,536.72 393.0,536.26 396.0,535.46 399.0,534.96 402.0,534.64 405.0,534.33 408.0,534.00 411.0,534.00 414.0,534.26 417.0,534.45 420.0,534.72 423.0,535.39 426.0,536.23 429.0,536.85 432.0,537.29 435.0,537.79 438.0,538.39 441.0,539.27 444.0,539.89 447.0,540.72 450.0,541.49 453.0,541.89 456.0,542.23 459.0,542.72 462.0,543.13 465.0,543.09 468.0,542.99 471.0,542.98 474.0,543.18 477.0,543.62 480.0,544.10 483.0,544.11 486.0,544.27 489.0,544.23 492.0,544.13 495.0,544.24 498.0,544.05 501.0,543.78 504.0,543.69 507.0,543.89 510.0,543.87 513.0,543.86 516.0,543.83 519.0,543.61 522.0,543.50 525.0,543.63 528.0,543.84 531.0,544.19 534.0,544.72 537.0,544.98 540.0,545.68 543.0,546.30 546.0,546.78 549.0,546.98 552.0,547.25 555.0,547.48 558.0,547.30 561.0,547.06 564.0,546.71 567.0,546.10 570.0,545.38 573.0,544.68 576.0,543.89 579.0,543.56 582.0,542.97 585.0,542.25 588.0,541.60 591.0,541.25 594.0,540.85 597.0,540.66 600.0,540.82 603.0,541.06 606.0,541.13 609.0,541.10 612.0,541.37 615.0,541.24 618.0,541.22 621.0,540.90 624.0,540.73 627.0,540.50 630.0,540.15 633.0,539.25 636.0,538.34 639.0,537.24 642.0,536.05 645.0,534.97 648.0,534.23 651.0,533.87 654.0,533.37 657.0,533.25 660.0,533.02 663.0,533.02 666.0,532.96 669.0,532.93 672.0,532.95 675.0,533.35 678.0,533.77 681.0,534.18 684.0,534.60 687.0,534.84 690.0,534.94 693.0,534.89 696.0,534.95 699.0,534.87 702.0,534.72 705.0,534.36 708.0,533.88 711.0,533.40 714.0,532.92 717.0,532.49 720.0,532.17 723.0,531.95 726.0,531.63 729.0,531.38 732.0,531.33 735.0,531.19 738.0,530.96 741.0,530.68 744.0,530.72 747.0,530.69 750.0,530.73 753.0,530.70 756.0,530.94 759.0,531.10 762.0,531.77 765.0,532.36 768.0,532.94 771.0,533.54 774.0,533.78 777.0,534.02 780.0,534.22 783.0,534.49 786.0,534.49 789.0,534.49 792.0,534.27 795.0,534.44 798.0,534.29 801.0,534.31 804.0,533.84 807.0,533.61 810.0,533.65 813.0,533.60 816.0,533.60 819.0,533.76 822.0,533.86 825.0,533.91 828.0,534.07 831.0,534.29 834.0,534.57" fill="none" stroke="#d8c13a" stroke-width="0.8"/></g><path d="M5.0 462H896.0" stroke="#0f121a" stroke-width="1.5"/><path d="M5.0 519.5H896.0M5.0 561H896.0M5.0 583.2H896.0M5.0 601.8H896.0" stroke="#222633" stroke-width="1"/><path d="M5.0 618.2H896.0" stroke="#27272b" stroke-width="1.6"/><path d="M864.5 15.5V617.0" stroke="#1b1f2b" stroke-width="0.6"/><g font-size="6.5" font-weight="bold" text-anchor="middle"><rect x="97.0" y="448.8" width="9" height="9.5" rx="1" fill="#0b0d12" stroke="#c9ccd3" stroke-width="0.8"/><text x="101.5" y="456" fill="#e6e8ec">E</text><rect x="422.0" y="448.8" width="9" height="9.5" rx="1" fill="#0b0d12" stroke="#c9ccd3" stroke-width="0.8"/><text x="426.5" y="456" fill="#e6e8ec">E</text><circle cx="221.3" cy="453.5" r="4.7" fill="#0b1240" stroke="#1c2d96" stroke-width="0.9"/><text x="221.3" y="456" fill="#2c46b8">D</text><circle cx="440.6" cy="453.5" r="4.7" fill="#0b1240" stroke="#1c2d96" stroke-width="0.9"/><text x="440.6" y="456" fill="#2c46b8">D</text><rect x="850.2" y="448.5" width="10.5" height="10" rx="0.5" fill="#1a0f24" stroke="#9c27b0" stroke-width="1.2"/><text x="855.5" y="456" fill="#9c27b0">E</text></g><text x="6" y="10.7" fill="#e6e6e6" font-size="7.0" font-weight="normal" textLength="222.8" lengthAdjust="spacingAndGlyphs" stroke="#e6e6e6" stroke-width="0.3">FinancialHorse created with TradingView.com, Feb 12, 2026 21:46 UTC+8</text><text x="10.4" y="26.8" fill="#cfd2d8" font-size="7.5" font-weight="normal" textLength="171.4" lengthAdjust="spacingAndGlyphs" stroke="#cfd2d8" stroke-width="0.15">Oversea-Chinese Banking Corporation Limited · 1D · SGX</text><text x="186.0" y="26.8" fill="#cfd2d8" font-size="7.5" font-weight="normal" textLength="4.6" lengthAdjust="spacingAndGlyphs" stroke="#cfd2d8" stroke-width="0.15">O</text><text x="191.4" y="26.8" fill="#14937b" font-size="7.5" font-weight="normal" textLength="16.4" lengthAdjust="spacingAndGlyphs" stroke="#14937b" stroke-width="0.15">21.52</text><text x="211.8" y="26.8" fill="#cfd2d8" font-size="7.5" font-weight="normal" textLength="3.9" lengthAdjust="spacingAndGlyphs" stroke="#cfd2d8" stroke-width="0.15">H</text><text x="215.9" y="26.8" fill="#14937b" font-size="7.5" font-weight="normal" textLength="17.5" lengthAdjust="spacingAndGlyphs" stroke="#14937b" stroke-width="0.15">21.79</text><text x="236.9" y="26.8" fill="#cfd2d8" font-size="7.5" font-weight="normal" textLength="2.5" lengthAdjust="spacingAndGlyphs" stroke="#cfd2d8" stroke-width="0.15">L</text><text x="239.8" y="26.8" fill="#14937b" font-size="7.5" font-weight="normal" textLength="18.8" lengthAdjust="spacingAndGlyphs" stroke="#14937b" stroke-width="0.15">21.40</text><text x="261.8" y="26.8" fill="#cfd2d8" font-size="7.5" font-weight="normal" textLength="2.8" lengthAdjust="spacingAndGlyphs" stroke="#cfd2d8" stroke-width="0.15">C</text><text x="265.3" y="26.8" fill="#14937b" font-size="7.5" font-weight="normal" textLength="17.7" lengthAdjust="spacingAndGlyphs" stroke="#14937b" stroke-width="0.15">21.78</text><text x="286.4" y="26.8" fill="#14937b" font-size="7.5" font-weight="normal" textLength="44.3" lengthAdjust="spacingAndGlyphs" stroke="#14937b" stroke-width="0.15">+0.43 (+2.01%)</text><text x="10.2" y="36.1" fill="#cfd2d8" font-size="7.5" font-weight="normal" textLength="49.7" lengthAdjust="spacingAndGlyphs" stroke="#cfd2d8" stroke-width="0.15">SMA (200, close)</text><text x="64.3" y="36.1" fill="#e8d54a" font-size="7.5" font-weight="bold" textLength="17.2" lengthAdjust="spacingAndGlyphs">17.68</text><text x="10.2" y="45.7" fill="#cfd2d8" font-size="7.5" font-weight="normal" textLength="49.7" lengthAdjust="spacingAndGlyphs" stroke="#cfd2d8" stroke-width="0.15">SMA (150, close)</text><text x="64.3" y="45.7" fill="#2d45b5" font-size="7.5" font-weight="normal" textLength="18.8" lengthAdjust="spacingAndGlyphs" stroke="#2d45b5" stroke-width="0.15">18.14</text><text x="10.2" y="55.2" fill="#cfd2d8" font-size="7.5" font-weight="normal" textLength="45.8" lengthAdjust="spacingAndGlyphs" stroke="#cfd2d8" stroke-width="0.15">SMA (50, close)</text><text x="59.3" y="55.2" fill="#cc3446" font-size="7.5" font-weight="normal" textLength="18.3" lengthAdjust="spacingAndGlyphs" stroke="#cc3446" stroke-width="0.15">20.20</text><text x="10.2" y="64.6" fill="#cfd2d8" font-size="7.5" font-weight="normal" textLength="23.1" lengthAdjust="spacingAndGlyphs" stroke="#cfd2d8" stroke-width="0.15">Vol (20)</text><text x="37.7" y="64.6" fill="#1a7f73" font-size="7.5" font-weight="normal" textLength="18.8" lengthAdjust="spacingAndGlyphs" stroke="#1a7f73" stroke-width="0.15">6.03M</text><text x="60.4" y="64.6" fill="#f0cd5c" font-size="7.5" font-weight="bold" textLength="19.4" lengthAdjust="spacingAndGlyphs">4.79M</text><text x="10.3" y="471.9" fill="#cfd2d8" font-size="7.5" font-weight="normal" textLength="71.7" lengthAdjust="spacingAndGlyphs" stroke="#cfd2d8" stroke-width="0.15">MACD (close, 12, 26, 9)</text><text x="85.7" y="471.9" fill="#eceef2" font-size="7.5" font-weight="bold" textLength="20.2" lengthAdjust="spacingAndGlyphs">−0.018</text><text x="110.0" y="471.9" fill="#2a48c8" font-size="7.5" font-weight="normal" textLength="16.3" lengthAdjust="spacingAndGlyphs" stroke="#2a48c8" stroke-width="0.15">0.401</text><text x="130.9" y="471.9" fill="#d9712a" font-size="7.5" font-weight="normal" textLength="16.7" lengthAdjust="spacingAndGlyphs" stroke="#d9712a" stroke-width="0.15">0.420</text><text x="10.4" y="530.6" fill="#cfd2d8" font-size="7.5" font-weight="normal" textLength="42.8" lengthAdjust="spacingAndGlyphs" stroke="#cfd2d8" stroke-width="0.15">RSI (14, close)</text><text x="57.9" y="530.6" fill="#6b52bf" font-size="7.5" font-weight="normal" textLength="15.9" lengthAdjust="spacingAndGlyphs" stroke="#6b52bf" stroke-width="0.15">71.20</text><text x="79.2" y="530.6" fill="#ebd640" font-size="7.5" font-weight="bold" textLength="16.3" lengthAdjust="spacingAndGlyphs">68.96</text><text x="10.4" y="576.0" fill="#cfd2d8" font-size="7.5" font-weight="normal" textLength="136.3" lengthAdjust="spacingAndGlyphs" stroke="#cfd2d8" stroke-width="0.15">Dividend yield % (calculated by TradingView)</text><text x="150.0" y="576.0" fill="#1c9a55" font-size="7.5" font-weight="normal" textLength="18.6" lengthAdjust="spacingAndGlyphs" stroke="#1c9a55" stroke-width="0.15">4.50%</text><text x="10.4" y="595.0" fill="#cfd2d8" font-size="7.5" font-weight="normal" textLength="27.5" lengthAdjust="spacingAndGlyphs" stroke="#cfd2d8" stroke-width="0.15">P/B ratio</text><text x="41.9" y="595.0" fill="#e2a43a" font-size="7.5" font-weight="normal" textLength="13.0" lengthAdjust="spacingAndGlyphs" stroke="#e2a43a" stroke-width="0.15">1.69</text><text x="51.0" y="612.9" fill="#c3c6cc" font-size="6.8" text-anchor="middle" font-weight="normal" stroke="#c3c6cc" stroke-width="0.15">Feb</text><text x="111.0" y="612.9" fill="#c3c6cc" font-size="6.8" text-anchor="middle" font-weight="normal" stroke="#c3c6cc" stroke-width="0.15">Mar</text><text x="171.0" y="612.9" fill="#c3c6cc" font-size="6.8" text-anchor="middle" font-weight="normal" stroke="#c3c6cc" stroke-width="0.15">Apr</text><text x="234.0" y="612.9" fill="#c3c6cc" font-size="6.8" text-anchor="middle" font-weight="normal" stroke="#c3c6cc" stroke-width="0.15">May</text><text x="294.0" y="612.9" fill="#c3c6cc" font-size="6.8" text-anchor="middle" font-weight="normal" stroke="#c3c6cc" stroke-width="0.15">Jun</text><text x="357.0" y="612.9" fill="#c3c6cc" font-size="6.8" text-anchor="middle" font-weight="normal" stroke="#c3c6cc" stroke-width="0.15">Jul</text><text x="426.0" y="612.9" fill="#c3c6cc" font-size="6.8" text-anchor="middle" font-weight="normal" stroke="#c3c6cc" stroke-width="0.15">Aug</text><text x="489.0" y="612.9" fill="#c3c6cc" font-size="6.8" text-anchor="middle" font-weight="normal" stroke="#c3c6cc" stroke-width="0.15">Sep</text><text x="555.0" y="612.9" fill="#c3c6cc" font-size="6.8" text-anchor="middle" font-weight="normal" stroke="#c3c6cc" stroke-width="0.15">Oct</text><text x="621.0" y="612.9" fill="#c3c6cc" font-size="6.8" text-anchor="middle" font-weight="normal" stroke="#c3c6cc" stroke-width="0.15">Nov</text><text x="681.0" y="612.9" fill="#c3c6cc" font-size="6.8" text-anchor="middle" font-weight="normal" stroke="#c3c6cc" stroke-width="0.15">Dec</text><text x="747.0" y="612.9" fill="#c3c6cc" font-size="6.8" text-anchor="middle" font-weight="normal" stroke="#c3c6cc" stroke-width="0.15">2026</text><text x="810.0" y="612.9" fill="#c3c6cc" font-size="6.8" text-anchor="middle" font-weight="normal" stroke="#c3c6cc" stroke-width="0.15">Feb</text><text x="870.5" y="52.5" fill="#c3c6cc" font-size="7" text-anchor="start" font-weight="normal" stroke="#c3c6cc" stroke-width="0.15">22.00</text><text x="870.5" y="77.0" fill="#c3c6cc" font-size="7" text-anchor="start" font-weight="normal" stroke="#c3c6cc" stroke-width="0.15">21.50</text><text x="870.5" y="101.4" fill="#c3c6cc" font-size="7" text-anchor="start" font-weight="normal" stroke="#c3c6cc" stroke-width="0.15">21.00</text><text x="870.5" y="125.8" fill="#c3c6cc" font-size="7" text-anchor="start" font-weight="normal" stroke="#c3c6cc" stroke-width="0.15">20.50</text><text x="870.5" y="150.3" fill="#c3c6cc" font-size="7" text-anchor="start" font-weight="normal" stroke="#c3c6cc" stroke-width="0.15">20.00</text><text x="870.5" y="174.8" fill="#c3c6cc" font-size="7" text-anchor="start" font-weight="normal" stroke="#c3c6cc" stroke-width="0.15">19.50</text><text x="870.5" y="199.2" fill="#c3c6cc" font-size="7" text-anchor="start" font-weight="normal" stroke="#c3c6cc" stroke-width="0.15">19.00</text><text x="870.5" y="223.7" fill="#c3c6cc" font-size="7" text-anchor="start" font-weight="normal" stroke="#c3c6cc" stroke-width="0.15">18.50</text><text x="870.5" y="248.1" fill="#c3c6cc" font-size="7" text-anchor="start" font-weight="normal" stroke="#c3c6cc" stroke-width="0.15">18.00</text><text x="870.5" y="272.5" fill="#c3c6cc" font-size="7" text-anchor="start" font-weight="normal" stroke="#c3c6cc" stroke-width="0.15">17.50</text><text x="870.5" y="297.0" fill="#c3c6cc" font-size="7" text-anchor="start" font-weight="normal" stroke="#c3c6cc" stroke-width="0.15">17.00</text><text x="870.5" y="321.4" fill="#c3c6cc" font-size="7" text-anchor="start" font-weight="normal" stroke="#c3c6cc" stroke-width="0.15">16.50</text><text x="870.5" y="345.9" fill="#c3c6cc" font-size="7" text-anchor="start" font-weight="normal" stroke="#c3c6cc" stroke-width="0.15">16.00</text><text x="870.5" y="370.3" fill="#c3c6cc" font-size="7" text-anchor="start" font-weight="normal" stroke="#c3c6cc" stroke-width="0.15">15.50</text><text x="870.5" y="394.8" fill="#c3c6cc" font-size="7" text-anchor="start" font-weight="normal" stroke="#c3c6cc" stroke-width="0.15">15.00</text><text x="870.5" y="419.2" fill="#c3c6cc" font-size="7" text-anchor="start" font-weight="normal" stroke="#c3c6cc" stroke-width="0.15">14.50</text><text x="870.5" y="443.7" fill="#c3c6cc" font-size="7" text-anchor="start" font-weight="normal" stroke="#c3c6cc" stroke-width="0.15">14.00</text><text x="870.5" y="469.2" fill="#c3c6cc" font-size="7" text-anchor="start" font-weight="normal" stroke="#c3c6cc" stroke-width="0.15">0.500</text><text x="870.5" y="492.1" fill="#c3c6cc" font-size="7" text-anchor="start" font-weight="normal" stroke="#c3c6cc" stroke-width="0.15">0.000</text><text x="870.5" y="515.0" fill="#c3c6cc" font-size="7" text-anchor="start" font-weight="normal" stroke="#c3c6cc" stroke-width="0.15">−0.500</text><text x="870.5" y="531.7" fill="#c3c6cc" font-size="7" text-anchor="start" font-weight="normal" stroke="#c3c6cc" stroke-width="0.15">80.00</text><text x="870.5" y="550.5" fill="#c3c6cc" font-size="7" text-anchor="start" font-weight="normal" stroke="#c3c6cc" stroke-width="0.15">40.00</text><rect x="865.5" y="55.8" width="25.5" height="10" fill="#1fb08f"/><text x="870.5" y="63.3" fill="#ffffff" font-size="7" text-anchor="start" font-weight="normal" >21.78</text><rect x="868.5" y="18" width="25" height="13.3" fill="#0c0c0e"/><text x="881" y="27.2" fill="#e6e6e6" font-size="6.8" text-anchor="middle" font-weight="normal" >SGD</text><g transform="translate(6.7,628.3) scale(0.478)" fill="#f0f0f0"><path d="M14 22H7V11H0V4h14v18zM28 22h-8l7.5-18h8L28 22z"/><circle cx="20" cy="8" r="4"/></g><text x="28" y="638.8" fill="#f0f0f0" font-size="11.8" font-weight="normal" textLength="68.3" lengthAdjust="spacingAndGlyphs" stroke="#f0f0f0" stroke-width="0.45">TradingView</text></svg></body></html>
